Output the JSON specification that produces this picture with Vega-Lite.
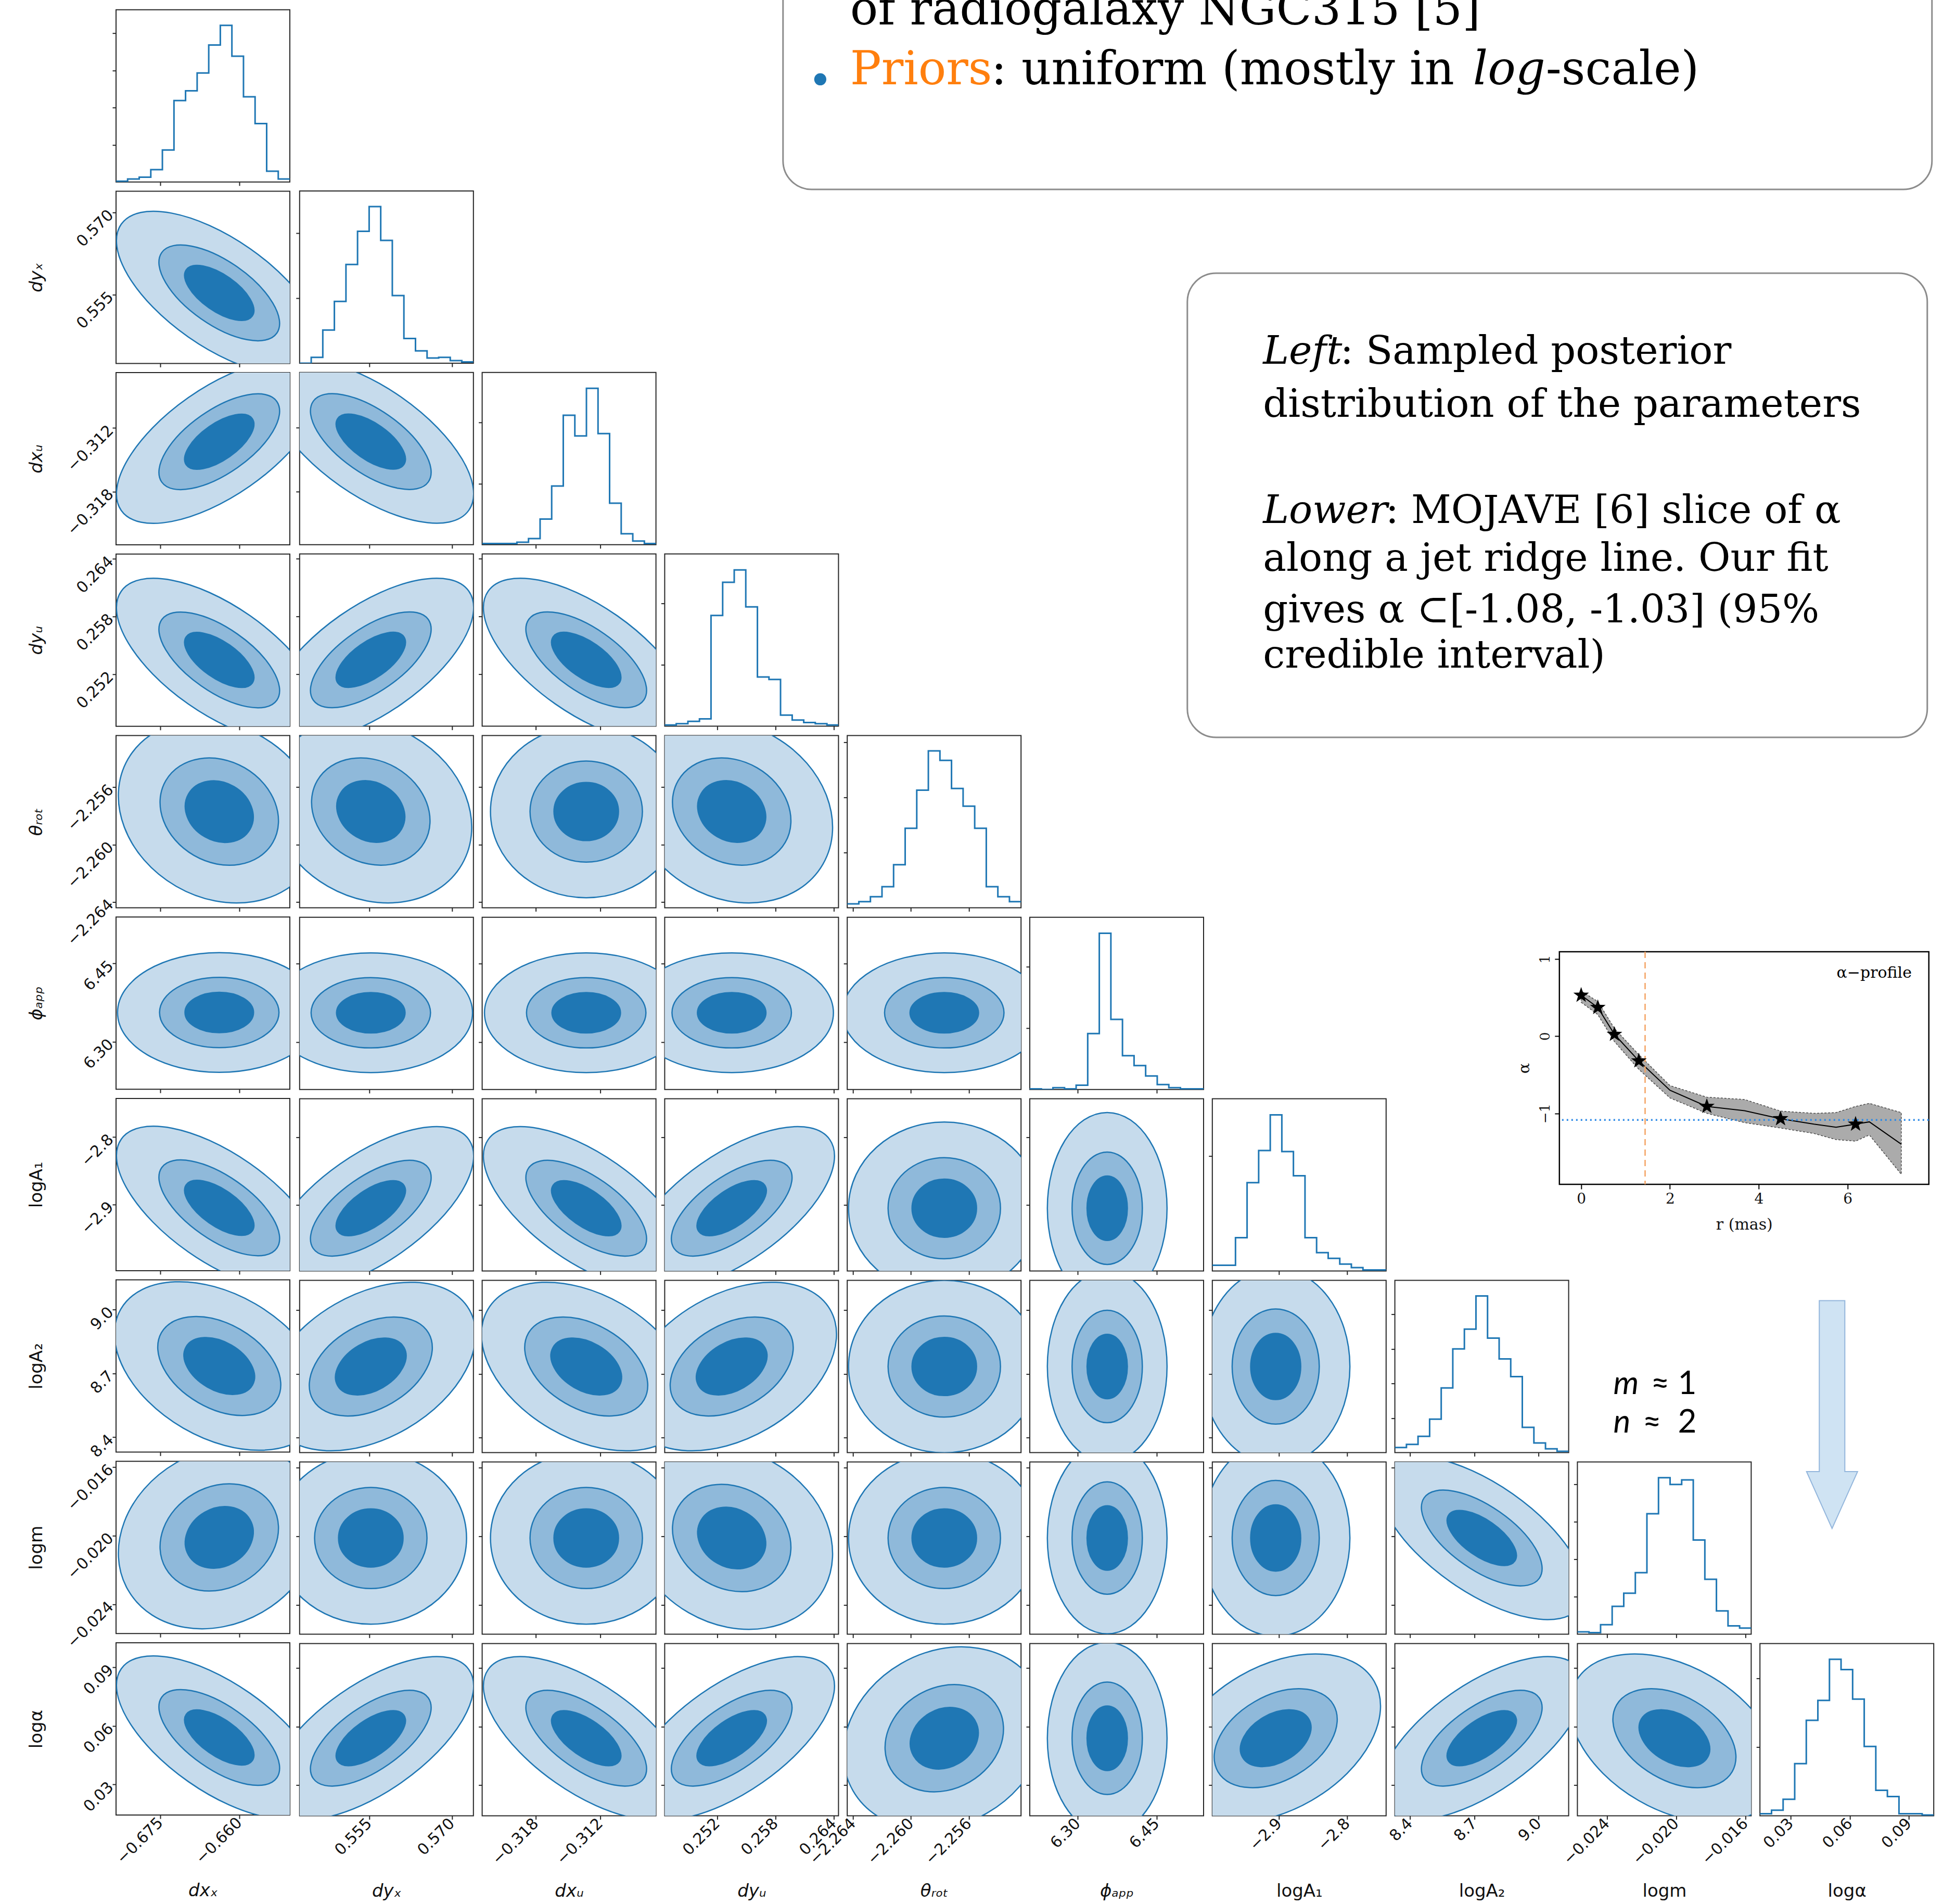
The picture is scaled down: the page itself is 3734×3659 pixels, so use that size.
{
"$schema":"https://vega.github.io/schema/vega-lite/v6.json",
"background":"white",
"padding":{"left":52,"top":-65,"right":10,"bottom":0},
"spacing":8.8,
"config":{
 "view":{"stroke":"#262626","strokeWidth":2},
 "range":{"symbol":[
  "M0.819,0.574C0.677,0.777,0.194,0.685,-0.258,0.369C-0.711,0.052,-0.962,-0.37,-0.819,-0.574C-0.677,-0.777,-0.194,-0.685,0.258,-0.369C0.711,-0.052,0.962,0.37,0.819,0.574Z",
  "M0.823,0.475C0.657,0.762,0.154,0.782,-0.3,0.52C-0.754,0.257,-0.988,-0.188,-0.823,-0.475C-0.657,-0.762,-0.154,-0.782,0.3,-0.52C0.754,-0.257,0.988,0.188,0.823,0.475Z",
  "M0.819,-0.574C0.677,-0.777,0.194,-0.685,-0.258,-0.369C-0.711,-0.052,-0.962,0.37,-0.819,0.574C-0.677,0.777,-0.194,0.685,0.258,0.369C0.711,0.052,0.962,-0.37,0.819,-0.574Z",
  "M0.823,-0.475C0.657,-0.762,0.154,-0.782,-0.3,-0.52C-0.754,-0.257,-0.988,0.188,-0.823,0.475C-0.657,0.762,-0.154,0.782,0.3,0.52C0.754,0.257,0.988,-0.188,0.823,-0.475Z",
  "M0.762,0.44C0.563,0.784,0.061,0.867,-0.36,0.624C-0.781,0.381,-0.961,-0.096,-0.762,-0.44C-0.563,-0.784,-0.061,-0.867,0.36,-0.624C0.781,-0.381,0.961,0.096,0.762,0.44Z",
  "M0.762,-0.44C0.563,-0.784,0.061,-0.867,-0.36,-0.624C-0.781,-0.381,-0.961,0.096,-0.762,0.44C-0.563,0.784,-0.061,0.867,0.36,0.624C0.781,0.381,0.961,-0.096,0.762,-0.44Z",
  "M0.8,0C0.8,0.398,0.442,0.72,0,0.72C-0.442,0.72,-0.8,0.398,-0.8,0C-0.8,-0.398,-0.442,-0.72,0,-0.72C0.442,-0.72,0.8,-0.398,0.8,0Z",
  "M0.85,0C0.85,0.276,0.47,0.5,0,0.5C-0.47,0.5,-0.85,0.276,-0.85,0C-0.85,-0.276,-0.47,-0.5,0,-0.5C0.47,-0.5,0.85,-0.276,0.85,0Z",
  "M0.5,0C0.5,0.442,0.276,0.8,0,0.8C-0.276,0.8,-0.5,0.442,-0.5,0C-0.5,-0.442,-0.276,-0.8,0,-0.8C0.276,-0.8,0.5,-0.442,0.5,0Z",
  "M0.62,0C0.62,0.453,0.342,0.82,0,0.82C-0.342,0.82,-0.62,0.453,-0.62,0C-0.62,-0.453,-0.342,-0.82,0,-0.82C0.342,-0.82,0.62,-0.453,0.62,0Z"
 ]},
 "axis":{"grid":false,"domain":false,"tickSize":7,"tickWidth":2,"tickColor":"#262626","labelFont":"DejaVu Sans","labelFontSize":30,"labelColor":"#111111","labelAngle":-45,"labelAlign":"right","labelBaseline":"middle","labelPadding":3,"labelOverlap":false,"labelFlush":false,"titleFont":"DejaVu Sans","titleFontSize":34,"titleFontWeight":"normal","titleColor":"#111111"}
},
"datasets":{
"ct":[
{"p":"2-1","l":3,"x":-0.6638,"y":0.5553,"f":"N"},{"p":"2-1","l":2,"x":-0.6638,"y":0.5553,"f":"N"},{"p":"2-1","l":1,"x":-0.6638,"y":0.5553,"f":"N"},
{"p":"3-1","l":3,"x":-0.6638,"y":-0.3133,"f":"P"},{"p":"3-1","l":2,"x":-0.6638,"y":-0.3133,"f":"P"},{"p":"3-1","l":1,"x":-0.6638,"y":-0.3133,"f":"P"},
{"p":"3-2","l":3,"x":0.5553,"y":-0.3133,"f":"N"},{"p":"3-2","l":2,"x":0.5553,"y":-0.3133,"f":"N"},{"p":"3-2","l":1,"x":0.5553,"y":-0.3133,"f":"N"},
{"p":"4-1","l":3,"x":-0.6638,"y":0.2535,"f":"N"},{"p":"4-1","l":2,"x":-0.6638,"y":0.2535,"f":"N"},{"p":"4-1","l":1,"x":-0.6638,"y":0.2535,"f":"N"},
{"p":"4-2","l":3,"x":0.5553,"y":0.2535,"f":"P"},{"p":"4-2","l":2,"x":0.5553,"y":0.2535,"f":"P"},{"p":"4-2","l":1,"x":0.5553,"y":0.2535,"f":"P"},
{"p":"4-3","l":3,"x":-0.3133,"y":0.2535,"f":"N"},{"p":"4-3","l":2,"x":-0.3133,"y":0.2535,"f":"N"},{"p":"4-3","l":1,"x":-0.3133,"y":0.2535,"f":"N"},
{"p":"5-1","l":3,"x":-0.6638,"y":-2.2577,"f":"s"},{"p":"5-1","l":2,"x":-0.6638,"y":-2.2577,"f":"s"},{"p":"5-1","l":1,"x":-0.6638,"y":-2.2577,"f":"s"},
{"p":"5-2","l":3,"x":0.5553,"y":-2.2577,"f":"s"},{"p":"5-2","l":2,"x":0.5553,"y":-2.2577,"f":"s"},{"p":"5-2","l":1,"x":0.5553,"y":-2.2577,"f":"s"},
{"p":"5-3","l":3,"x":-0.3133,"y":-2.2577,"f":"o"},{"p":"5-3","l":2,"x":-0.3133,"y":-2.2577,"f":"o"},{"p":"5-3","l":1,"x":-0.3133,"y":-2.2577,"f":"o"},
{"p":"5-4","l":3,"x":0.2535,"y":-2.2577,"f":"s"},{"p":"5-4","l":2,"x":0.2535,"y":-2.2577,"f":"s"},{"p":"5-4","l":1,"x":0.2535,"y":-2.2577,"f":"s"},
{"p":"6-1","l":3,"x":-0.6638,"y":6.356,"f":"w"},{"p":"6-1","l":2,"x":-0.6638,"y":6.356,"f":"w"},{"p":"6-1","l":1,"x":-0.6638,"y":6.356,"f":"w"},
{"p":"6-2","l":3,"x":0.5553,"y":6.356,"f":"w"},{"p":"6-2","l":2,"x":0.5553,"y":6.356,"f":"w"},{"p":"6-2","l":1,"x":0.5553,"y":6.356,"f":"w"},
{"p":"6-3","l":3,"x":-0.3133,"y":6.356,"f":"w"},{"p":"6-3","l":2,"x":-0.3133,"y":6.356,"f":"w"},{"p":"6-3","l":1,"x":-0.3133,"y":6.356,"f":"w"},
{"p":"6-4","l":3,"x":0.2535,"y":6.356,"f":"w"},{"p":"6-4","l":2,"x":0.2535,"y":6.356,"f":"w"},{"p":"6-4","l":1,"x":0.2535,"y":6.356,"f":"w"},
{"p":"6-5","l":3,"x":-2.2577,"y":6.356,"f":"w"},{"p":"6-5","l":2,"x":-2.2577,"y":6.356,"f":"w"},{"p":"6-5","l":1,"x":-2.2577,"y":6.356,"f":"w"},
{"p":"7-1","l":3,"x":-0.6638,"y":-2.905,"f":"N"},{"p":"7-1","l":2,"x":-0.6638,"y":-2.905,"f":"N"},{"p":"7-1","l":1,"x":-0.6638,"y":-2.905,"f":"N"},
{"p":"7-2","l":3,"x":0.5553,"y":-2.905,"f":"P"},{"p":"7-2","l":2,"x":0.5553,"y":-2.905,"f":"P"},{"p":"7-2","l":1,"x":0.5553,"y":-2.905,"f":"P"},
{"p":"7-3","l":3,"x":-0.3133,"y":-2.905,"f":"N"},{"p":"7-3","l":2,"x":-0.3133,"y":-2.905,"f":"N"},{"p":"7-3","l":1,"x":-0.3133,"y":-2.905,"f":"N"},
{"p":"7-4","l":3,"x":0.2535,"y":-2.905,"f":"P"},{"p":"7-4","l":2,"x":0.2535,"y":-2.905,"f":"P"},{"p":"7-4","l":1,"x":0.2535,"y":-2.905,"f":"P"},
{"p":"7-5","l":3,"x":-2.2577,"y":-2.905,"f":"o"},{"p":"7-5","l":2,"x":-2.2577,"y":-2.905,"f":"o"},{"p":"7-5","l":1,"x":-2.2577,"y":-2.905,"f":"o"},
{"p":"7-6","l":3,"x":6.356,"y":-2.905,"f":"t"},{"p":"7-6","l":2,"x":6.356,"y":-2.905,"f":"t"},{"p":"7-6","l":1,"x":6.356,"y":-2.905,"f":"t"},
{"p":"8-1","l":3,"x":-0.6638,"y":8.735,"f":"n"},{"p":"8-1","l":2,"x":-0.6638,"y":8.735,"f":"n"},{"p":"8-1","l":1,"x":-0.6638,"y":8.735,"f":"n"},
{"p":"8-2","l":3,"x":0.5553,"y":8.735,"f":"p"},{"p":"8-2","l":2,"x":0.5553,"y":8.735,"f":"p"},{"p":"8-2","l":1,"x":0.5553,"y":8.735,"f":"p"},
{"p":"8-3","l":3,"x":-0.3133,"y":8.735,"f":"n"},{"p":"8-3","l":2,"x":-0.3133,"y":8.735,"f":"n"},{"p":"8-3","l":1,"x":-0.3133,"y":8.735,"f":"n"},
{"p":"8-4","l":3,"x":0.2535,"y":8.735,"f":"p"},{"p":"8-4","l":2,"x":0.2535,"y":8.735,"f":"p"},{"p":"8-4","l":1,"x":0.2535,"y":8.735,"f":"p"},
{"p":"8-5","l":3,"x":-2.2577,"y":8.735,"f":"o"},{"p":"8-5","l":2,"x":-2.2577,"y":8.735,"f":"o"},{"p":"8-5","l":1,"x":-2.2577,"y":8.735,"f":"o"},
{"p":"8-6","l":3,"x":6.356,"y":8.735,"f":"t"},{"p":"8-6","l":2,"x":6.356,"y":8.735,"f":"t"},{"p":"8-6","l":1,"x":6.356,"y":8.735,"f":"t"},
{"p":"8-7","l":3,"x":-2.905,"y":8.735,"f":"v"},{"p":"8-7","l":2,"x":-2.905,"y":8.735,"f":"v"},{"p":"8-7","l":1,"x":-2.905,"y":8.735,"f":"v"},
{"p":"9-1","l":3,"x":-0.6638,"y":-0.0201,"f":"q"},{"p":"9-1","l":2,"x":-0.6638,"y":-0.0201,"f":"q"},{"p":"9-1","l":1,"x":-0.6638,"y":-0.0201,"f":"q"},
{"p":"9-2","l":3,"x":0.5553,"y":-0.0201,"f":"o"},{"p":"9-2","l":2,"x":0.5553,"y":-0.0201,"f":"o"},{"p":"9-2","l":1,"x":0.5553,"y":-0.0201,"f":"o"},
{"p":"9-3","l":3,"x":-0.3133,"y":-0.0201,"f":"o"},{"p":"9-3","l":2,"x":-0.3133,"y":-0.0201,"f":"o"},{"p":"9-3","l":1,"x":-0.3133,"y":-0.0201,"f":"o"},
{"p":"9-4","l":3,"x":0.2535,"y":-0.0201,"f":"s"},{"p":"9-4","l":2,"x":0.2535,"y":-0.0201,"f":"s"},{"p":"9-4","l":1,"x":0.2535,"y":-0.0201,"f":"s"},
{"p":"9-5","l":3,"x":-2.2577,"y":-0.0201,"f":"o"},{"p":"9-5","l":2,"x":-2.2577,"y":-0.0201,"f":"o"},{"p":"9-5","l":1,"x":-2.2577,"y":-0.0201,"f":"o"},
{"p":"9-6","l":3,"x":6.356,"y":-0.0201,"f":"t"},{"p":"9-6","l":2,"x":6.356,"y":-0.0201,"f":"t"},{"p":"9-6","l":1,"x":6.356,"y":-0.0201,"f":"t"},
{"p":"9-7","l":3,"x":-2.905,"y":-0.0201,"f":"v"},{"p":"9-7","l":2,"x":-2.905,"y":-0.0201,"f":"v"},{"p":"9-7","l":1,"x":-2.905,"y":-0.0201,"f":"v"},
{"p":"9-8","l":3,"x":8.735,"y":-0.0201,"f":"N"},{"p":"9-8","l":2,"x":8.735,"y":-0.0201,"f":"N"},{"p":"9-8","l":1,"x":8.735,"y":-0.0201,"f":"N"},
{"p":"10-1","l":3,"x":-0.6638,"y":0.0541,"f":"N"},{"p":"10-1","l":2,"x":-0.6638,"y":0.0541,"f":"N"},{"p":"10-1","l":1,"x":-0.6638,"y":0.0541,"f":"N"},
{"p":"10-2","l":3,"x":0.5553,"y":0.0541,"f":"P"},{"p":"10-2","l":2,"x":0.5553,"y":0.0541,"f":"P"},{"p":"10-2","l":1,"x":0.5553,"y":0.0541,"f":"P"},
{"p":"10-3","l":3,"x":-0.3133,"y":0.0541,"f":"N"},{"p":"10-3","l":2,"x":-0.3133,"y":0.0541,"f":"N"},{"p":"10-3","l":1,"x":-0.3133,"y":0.0541,"f":"N"},
{"p":"10-4","l":3,"x":0.2535,"y":0.0541,"f":"P"},{"p":"10-4","l":2,"x":0.2535,"y":0.0541,"f":"P"},{"p":"10-4","l":1,"x":0.2535,"y":0.0541,"f":"P"},
{"p":"10-5","l":3,"x":-2.2577,"y":0.0541,"f":"q"},{"p":"10-5","l":2,"x":-2.2577,"y":0.0541,"f":"q"},{"p":"10-5","l":1,"x":-2.2577,"y":0.0541,"f":"q"},
{"p":"10-6","l":3,"x":6.356,"y":0.0541,"f":"t"},{"p":"10-6","l":2,"x":6.356,"y":0.0541,"f":"t"},{"p":"10-6","l":1,"x":6.356,"y":0.0541,"f":"t"},
{"p":"10-7","l":3,"x":-2.905,"y":0.0541,"f":"p"},{"p":"10-7","l":2,"x":-2.905,"y":0.0541,"f":"p"},{"p":"10-7","l":1,"x":-2.905,"y":0.0541,"f":"p"},
{"p":"10-8","l":3,"x":8.735,"y":0.0541,"f":"P"},{"p":"10-8","l":2,"x":8.735,"y":0.0541,"f":"P"},{"p":"10-8","l":1,"x":8.735,"y":0.0541,"f":"P"},
{"p":"10-9","l":3,"x":-0.0201,"y":0.0541,"f":"n"},{"p":"10-9","l":2,"x":-0.0201,"y":0.0541,"f":"n"},{"p":"10-9","l":1,"x":-0.0201,"y":0.0541,"f":"n"}
],
"hist":[
{"p":1,"x":-0.6834,"h":0.02},{"p":1,"x":-0.6812,"h":0.08},{"p":1,"x":-0.679,"h":0.13},{"p":1,"x":-0.6768,"h":0.33},{"p":1,"x":-0.6746,"h":0.86},{"p":1,"x":-0.6724,"h":2.19},{"p":1,"x":-0.6702,"h":2.45},{"p":1,"x":-0.668,"h":2.93},{"p":1,"x":-0.6658,"h":3.68},{"p":1,"x":-0.6636,"h":4.21},{"p":1,"x":-0.6614,"h":3.38},{"p":1,"x":-0.6592,"h":2.29},{"p":1,"x":-0.657,"h":1.57},{"p":1,"x":-0.6548,"h":0.29},{"p":1,"x":-0.6526,"h":0.08},{"p":1,"x":-0.6504,"h":0.08},
{"p":2,"x":0.5424,"h":0.0},{"p":2,"x":0.5445,"h":0.09},{"p":2,"x":0.5466,"h":0.51},{"p":2,"x":0.5487,"h":0.95},{"p":2,"x":0.5508,"h":1.52},{"p":2,"x":0.5529,"h":2.03},{"p":2,"x":0.555,"h":2.41},{"p":2,"x":0.5571,"h":1.89},{"p":2,"x":0.5592,"h":1.04},{"p":2,"x":0.5613,"h":0.38},{"p":2,"x":0.5634,"h":0.19},{"p":2,"x":0.5655,"h":0.08},{"p":2,"x":0.5676,"h":0.09},{"p":2,"x":0.5697,"h":0.04},{"p":2,"x":0.5718,"h":0.02},{"p":2,"x":0.5739,"h":0.02},
{"p":3,"x":-0.323,"h":0.02},{"p":3,"x":-0.32192,"h":0.02},{"p":3,"x":-0.32084,"h":0.02},{"p":3,"x":-0.31976,"h":0.04},{"p":3,"x":-0.31868,"h":0.1},{"p":3,"x":-0.3176,"h":0.42},{"p":3,"x":-0.31652,"h":0.96},{"p":3,"x":-0.31544,"h":2.12},{"p":3,"x":-0.31436,"h":1.78},{"p":3,"x":-0.31328,"h":2.56},{"p":3,"x":-0.3122,"h":1.82},{"p":3,"x":-0.31112,"h":0.68},{"p":3,"x":-0.31004,"h":0.18},{"p":3,"x":-0.30896,"h":0.06},{"p":3,"x":-0.30788,"h":0.02},{"p":3,"x":-0.3068,"h":0.02},
{"p":4,"x":0.2466,"h":0.02},{"p":4,"x":0.24779,"h":0.04},{"p":4,"x":0.24899,"h":0.08},{"p":4,"x":0.25018,"h":0.12},{"p":4,"x":0.25137,"h":1.8},{"p":4,"x":0.25257,"h":2.34},{"p":4,"x":0.25376,"h":2.54},{"p":4,"x":0.25495,"h":1.94},{"p":4,"x":0.25615,"h":0.8},{"p":4,"x":0.25734,"h":0.76},{"p":4,"x":0.25853,"h":0.18},{"p":4,"x":0.25973,"h":0.1},{"p":4,"x":0.26092,"h":0.06},{"p":4,"x":0.26211,"h":0.04},{"p":4,"x":0.26331,"h":0.02},{"p":4,"x":0.2645,"h":0.02},
{"p":5,"x":-2.2644,"h":0.07},{"p":5,"x":-2.2636,"h":0.11},{"p":5,"x":-2.2628,"h":0.2},{"p":5,"x":-2.262,"h":0.38},{"p":5,"x":-2.2612,"h":0.78},{"p":5,"x":-2.2604,"h":1.44},{"p":5,"x":-2.2596,"h":2.13},{"p":5,"x":-2.2588,"h":2.84},{"p":5,"x":-2.258,"h":2.67},{"p":5,"x":-2.2572,"h":2.16},{"p":5,"x":-2.2564,"h":1.84},{"p":5,"x":-2.2556,"h":1.44},{"p":5,"x":-2.2548,"h":0.38},{"p":5,"x":-2.254,"h":0.2},{"p":5,"x":-2.2532,"h":0.11},{"p":5,"x":-2.2524,"h":0.11},
{"p":6,"x":6.209,"h":0.01},{"p":6,"x":6.231,"h":0.0},{"p":6,"x":6.253,"h":0.03},{"p":6,"x":6.275,"h":0.01},{"p":6,"x":6.297,"h":0.07},{"p":6,"x":6.319,"h":0.91},{"p":6,"x":6.341,"h":2.54},{"p":6,"x":6.363,"h":1.14},{"p":6,"x":6.385,"h":0.55},{"p":6,"x":6.407,"h":0.39},{"p":6,"x":6.429,"h":0.22},{"p":6,"x":6.451,"h":0.08},{"p":6,"x":6.473,"h":0.03},{"p":6,"x":6.495,"h":0.01},{"p":6,"x":6.517,"h":0.01},{"p":6,"x":6.539,"h":0.01},
{"p":7,"x":-2.998,"h":0.05},{"p":7,"x":-2.981,"h":0.05},{"p":7,"x":-2.964,"h":0.29},{"p":7,"x":-2.947,"h":0.77},{"p":7,"x":-2.93,"h":1.05},{"p":7,"x":-2.913,"h":1.36},{"p":7,"x":-2.896,"h":1.04},{"p":7,"x":-2.879,"h":0.83},{"p":7,"x":-2.862,"h":0.29},{"p":7,"x":-2.845,"h":0.16},{"p":7,"x":-2.828,"h":0.11},{"p":7,"x":-2.811,"h":0.06},{"p":7,"x":-2.794,"h":0.03},{"p":7,"x":-2.777,"h":0.01},{"p":7,"x":-2.76,"h":0.01},{"p":7,"x":-2.743,"h":0.01},
{"p":8,"x":8.33,"h":0.15},{"p":8,"x":8.384,"h":0.24},{"p":8,"x":8.438,"h":0.47},{"p":8,"x":8.492,"h":0.97},{"p":8,"x":8.546,"h":1.87},{"p":8,"x":8.6,"h":3.0},{"p":8,"x":8.654,"h":3.57},{"p":8,"x":8.708,"h":4.53},{"p":8,"x":8.762,"h":3.31},{"p":8,"x":8.816,"h":2.71},{"p":8,"x":8.87,"h":2.2},{"p":8,"x":8.924,"h":0.73},{"p":8,"x":8.978,"h":0.28},{"p":8,"x":9.032,"h":0.11},{"p":8,"x":9.086,"h":0.04},{"p":8,"x":9.14,"h":0.04},
{"p":9,"x":-0.02571,"h":0.06},{"p":9,"x":-0.02504,"h":0.04},{"p":9,"x":-0.02437,"h":0.25},{"p":9,"x":-0.0237,"h":0.74},{"p":9,"x":-0.02303,"h":1.09},{"p":9,"x":-0.02236,"h":1.64},{"p":9,"x":-0.02169,"h":3.21},{"p":9,"x":-0.02102,"h":4.17},{"p":9,"x":-0.02035,"h":3.99},{"p":9,"x":-0.01968,"h":4.11},{"p":9,"x":-0.01901,"h":2.51},{"p":9,"x":-0.01834,"h":1.46},{"p":9,"x":-0.01767,"h":0.62},{"p":9,"x":-0.017,"h":0.22},{"p":9,"x":-0.01633,"h":0.16},{"p":9,"x":-0.01566,"h":0.16},
{"p":10,"x":0.0144,"h":0.03},{"p":10,"x":0.02028,"h":0.08},{"p":10,"x":0.02616,"h":0.24},{"p":10,"x":0.03204,"h":0.76},{"p":10,"x":0.03792,"h":1.39},{"p":10,"x":0.0438,"h":1.68},{"p":10,"x":0.04968,"h":2.28},{"p":10,"x":0.05556,"h":2.13},{"p":10,"x":0.06144,"h":1.7},{"p":10,"x":0.06732,"h":1.01},{"p":10,"x":0.0732,"h":0.37},{"p":10,"x":0.07908,"h":0.28},{"p":10,"x":0.08496,"h":0.03},{"p":10,"x":0.09084,"h":0.03},{"p":10,"x":0.09672,"h":0.01},{"p":10,"x":0.1026,"h":0.01}
],
"prof":[{"r":0,"a":0.531,"lo":0.44,"hi":0.585},{"r":0.375,"a":0.372,"lo":0.28,"hi":0.45},{"r":0.75,"a":0.024,"lo":-0.07,"hi":0.1},{"r":1.3,"a":-0.32,"lo":-0.43,"hi":-0.24},{"r":2.0,"a":-0.7,"lo":-0.8,"hi":-0.64},{"r":2.83,"a":-0.91,"lo":-1.0,"hi":-0.79},{"r":3.68,"a":-0.965,"lo":-1.12,"hi":-0.82},{"r":4.49,"a":-1.07,"lo":-1.19,"hi":-0.97},{"r":5.24,"a":-1.14,"lo":-1.26,"hi":-1.0},{"r":5.74,"a":-1.18,"lo":-1.34,"hi":-0.99},{"r":6.18,"a":-1.14,"lo":-1.36,"hi":-0.91},{"r":6.49,"a":-1.11,"lo":-1.28,"hi":-0.87},{"r":7.21,"a":-1.4,"lo":-1.79,"hi":-0.99}],
"stars":[{"r":0,"a":0.531},{"r":0.375,"a":0.372},{"r":0.75,"a":0.024},{"r":1.3,"a":-0.32},{"r":2.83,"a":-0.91},{"r":4.49,"a":-1.07},{"r":6.18,"a":-1.14}]
},
"hconcat":[
{"vconcat":[
 {"width":10,"height":60,"view":{"stroke":null},"data":{"values":[{}]},"mark":{"type":"text","text":""}},
 {"width":334,"height":331,"data":{"name":"hist"},"transform":[{"filter":"datum.p==1"}],"mark":{"type":"line","interpolate":"step-after","color":"#1f77b4","strokeWidth":3,"clip":true},"encoding":{"x":{"field":"x","type":"quantitative","scale":{"domain":[-0.6834,-0.6504],"nice":false,"zero":false},"axis":{"values":[-0.675,-0.66],"labels":false,"title":null}},"y":{"field":"h","type":"quantitative","scale":{"domain":[0,4.63],"nice":false},"axis":{"values":[1,2,3,4],"labels":false,"title":null}}}},
 {"width":334,"height":331,"data":{"name":"ct"},"transform":[{"filter":"datum.p=='2-1'"}],"mark":{"type":"point","filled":true,"opacity":1,"stroke":"#1f77b4","strokeWidth":2.5,"clip":true},"encoding":{"x":{"field":"x","type":"quantitative","scale":{"domain":[-0.6834,-0.6504],"nice":false,"zero":false},"axis":{"values":[-0.675,-0.66],"labels":false,"title":null}},"y":{"field":"y","type":"quantitative","scale":{"domain":[0.5424,0.5739],"nice":false,"zero":false},"axis":{"values":[0.555,0.57],"format":".3f","title":"dyₓ","titleFontStyle":"italic","titleX":-153,"titleY":165.5,"titleAlign":"center","titleBaseline":"middle","titleAngle":-90}},"color":{"field":"l","type":"ordinal","scale":{"domain":[1,2,3],"range":["#1f77b4","#8fb9da","#c6dbec"]},"legend":null},"size":{"field":"l","type":"quantitative","scale":{"type":"threshold","domain":[1.5,2.5],"range":[24000,72900,211600]},"legend":null},"shape":{"field":"f","type":"nominal","scale":{"domain":["N","n","P","p","s","q","o","w","t","v"]},"legend":null}}},
 {"width":334,"height":331,"data":{"name":"ct"},"transform":[{"filter":"datum.p=='3-1'"}],"mark":{"type":"point","filled":true,"opacity":1,"stroke":"#1f77b4","strokeWidth":2.5,"clip":true},"encoding":{"x":{"field":"x","type":"quantitative","scale":{"domain":[-0.6834,-0.6504],"nice":false,"zero":false},"axis":{"values":[-0.675,-0.66],"labels":false,"title":null}},"y":{"field":"y","type":"quantitative","scale":{"domain":[-0.323,-0.3068],"nice":false,"zero":false},"axis":{"values":[-0.318,-0.312],"format":".3f","title":"dxᵤ","titleFontStyle":"italic","titleX":-153,"titleY":165.5,"titleAlign":"center","titleBaseline":"middle","titleAngle":-90}},"color":{"field":"l","type":"ordinal","scale":{"domain":[1,2,3],"range":["#1f77b4","#8fb9da","#c6dbec"]},"legend":null},"size":{"field":"l","type":"quantitative","scale":{"type":"threshold","domain":[1.5,2.5],"range":[24000,72900,211600]},"legend":null},"shape":{"field":"f","type":"nominal","scale":{"domain":["N","n","P","p","s","q","o","w","t","v"]},"legend":null}}},
 {"width":334,"height":331,"data":{"name":"ct"},"transform":[{"filter":"datum.p=='4-1'"}],"mark":{"type":"point","filled":true,"opacity":1,"stroke":"#1f77b4","strokeWidth":2.5,"clip":true},"encoding":{"x":{"field":"x","type":"quantitative","scale":{"domain":[-0.6834,-0.6504],"nice":false,"zero":false},"axis":{"values":[-0.675,-0.66],"labels":false,"title":null}},"y":{"field":"y","type":"quantitative","scale":{"domain":[0.2466,0.2645],"nice":false,"zero":false},"axis":{"values":[0.252,0.258,0.264],"format":".3f","title":"dyᵤ","titleFontStyle":"italic","titleX":-153,"titleY":165.5,"titleAlign":"center","titleBaseline":"middle","titleAngle":-90}},"color":{"field":"l","type":"ordinal","scale":{"domain":[1,2,3],"range":["#1f77b4","#8fb9da","#c6dbec"]},"legend":null},"size":{"field":"l","type":"quantitative","scale":{"type":"threshold","domain":[1.5,2.5],"range":[24000,72900,211600]},"legend":null},"shape":{"field":"f","type":"nominal","scale":{"domain":["N","n","P","p","s","q","o","w","t","v"]},"legend":null}}},
 {"width":334,"height":331,"data":{"name":"ct"},"transform":[{"filter":"datum.p=='5-1'"}],"mark":{"type":"point","filled":true,"opacity":1,"stroke":"#1f77b4","strokeWidth":2.5,"clip":true},"encoding":{"x":{"field":"x","type":"quantitative","scale":{"domain":[-0.6834,-0.6504],"nice":false,"zero":false},"axis":{"values":[-0.675,-0.66],"labels":false,"title":null}},"y":{"field":"y","type":"quantitative","scale":{"domain":[-2.2644,-2.2524],"nice":false,"zero":false},"axis":{"values":[-2.264,-2.26,-2.256],"format":".3f","title":"θᵣₒₜ","titleFontStyle":"italic","titleX":-153,"titleY":165.5,"titleAlign":"center","titleBaseline":"middle","titleAngle":-90}},"color":{"field":"l","type":"ordinal","scale":{"domain":[1,2,3],"range":["#1f77b4","#8fb9da","#c6dbec"]},"legend":null},"size":{"field":"l","type":"quantitative","scale":{"type":"threshold","domain":[1.5,2.5],"range":[24000,72900,211600]},"legend":null},"shape":{"field":"f","type":"nominal","scale":{"domain":["N","n","P","p","s","q","o","w","t","v"]},"legend":null}}},
 {"width":334,"height":331,"data":{"name":"ct"},"transform":[{"filter":"datum.p=='6-1'"}],"mark":{"type":"point","filled":true,"opacity":1,"stroke":"#1f77b4","strokeWidth":2.5,"clip":true},"encoding":{"x":{"field":"x","type":"quantitative","scale":{"domain":[-0.6834,-0.6504],"nice":false,"zero":false},"axis":{"values":[-0.675,-0.66],"labels":false,"title":null}},"y":{"field":"y","type":"quantitative","scale":{"domain":[6.209,6.539],"nice":false,"zero":false},"axis":{"values":[6.3,6.45],"format":".2f","title":"ϕₐₚₚ","titleFontStyle":"italic","titleX":-153,"titleY":165.5,"titleAlign":"center","titleBaseline":"middle","titleAngle":-90}},"color":{"field":"l","type":"ordinal","scale":{"domain":[1,2,3],"range":["#1f77b4","#8fb9da","#c6dbec"]},"legend":null},"size":{"field":"l","type":"quantitative","scale":{"type":"threshold","domain":[1.5,2.5],"range":[24000,72900,211600]},"legend":null},"shape":{"field":"f","type":"nominal","scale":{"domain":["N","n","P","p","s","q","o","w","t","v"]},"legend":null}}},
 {"width":334,"height":331,"data":{"name":"ct"},"transform":[{"filter":"datum.p=='7-1'"}],"mark":{"type":"point","filled":true,"opacity":1,"stroke":"#1f77b4","strokeWidth":2.5,"clip":true},"encoding":{"x":{"field":"x","type":"quantitative","scale":{"domain":[-0.6834,-0.6504],"nice":false,"zero":false},"axis":{"values":[-0.675,-0.66],"labels":false,"title":null}},"y":{"field":"y","type":"quantitative","scale":{"domain":[-2.998,-2.743],"nice":false,"zero":false},"axis":{"values":[-2.9,-2.8],"format":".1f","title":"logA₁","titleX":-153,"titleY":165.5,"titleAlign":"center","titleBaseline":"middle","titleAngle":-90}},"color":{"field":"l","type":"ordinal","scale":{"domain":[1,2,3],"range":["#1f77b4","#8fb9da","#c6dbec"]},"legend":null},"size":{"field":"l","type":"quantitative","scale":{"type":"threshold","domain":[1.5,2.5],"range":[24000,72900,211600]},"legend":null},"shape":{"field":"f","type":"nominal","scale":{"domain":["N","n","P","p","s","q","o","w","t","v"]},"legend":null}}},
 {"width":334,"height":331,"data":{"name":"ct"},"transform":[{"filter":"datum.p=='8-1'"}],"mark":{"type":"point","filled":true,"opacity":1,"stroke":"#1f77b4","strokeWidth":2.5,"clip":true},"encoding":{"x":{"field":"x","type":"quantitative","scale":{"domain":[-0.6834,-0.6504],"nice":false,"zero":false},"axis":{"values":[-0.675,-0.66],"labels":false,"title":null}},"y":{"field":"y","type":"quantitative","scale":{"domain":[8.33,9.14],"nice":false,"zero":false},"axis":{"values":[8.4,8.7,9.0],"format":".1f","title":"logA₂","titleX":-153,"titleY":165.5,"titleAlign":"center","titleBaseline":"middle","titleAngle":-90}},"color":{"field":"l","type":"ordinal","scale":{"domain":[1,2,3],"range":["#1f77b4","#8fb9da","#c6dbec"]},"legend":null},"size":{"field":"l","type":"quantitative","scale":{"type":"threshold","domain":[1.5,2.5],"range":[24000,72900,211600]},"legend":null},"shape":{"field":"f","type":"nominal","scale":{"domain":["N","n","P","p","s","q","o","w","t","v"]},"legend":null}}},
 {"width":334,"height":331,"data":{"name":"ct"},"transform":[{"filter":"datum.p=='9-1'"}],"mark":{"type":"point","filled":true,"opacity":1,"stroke":"#1f77b4","strokeWidth":2.5,"clip":true},"encoding":{"x":{"field":"x","type":"quantitative","scale":{"domain":[-0.6834,-0.6504],"nice":false,"zero":false},"axis":{"values":[-0.675,-0.66],"labels":false,"title":null}},"y":{"field":"y","type":"quantitative","scale":{"domain":[-0.02571,-0.01566],"nice":false,"zero":false},"axis":{"values":[-0.024,-0.02,-0.016],"format":".3f","title":"logm","titleX":-153,"titleY":165.5,"titleAlign":"center","titleBaseline":"middle","titleAngle":-90}},"color":{"field":"l","type":"ordinal","scale":{"domain":[1,2,3],"range":["#1f77b4","#8fb9da","#c6dbec"]},"legend":null},"size":{"field":"l","type":"quantitative","scale":{"type":"threshold","domain":[1.5,2.5],"range":[24000,72900,211600]},"legend":null},"shape":{"field":"f","type":"nominal","scale":{"domain":["N","n","P","p","s","q","o","w","t","v"]},"legend":null}}},
 {"width":334,"height":331,"data":{"name":"ct"},"transform":[{"filter":"datum.p=='10-1'"}],"mark":{"type":"point","filled":true,"opacity":1,"stroke":"#1f77b4","strokeWidth":2.5,"clip":true},"encoding":{"x":{"field":"x","type":"quantitative","scale":{"domain":[-0.6834,-0.6504],"nice":false,"zero":false},"axis":{"values":[-0.675,-0.66],"format":".3f","title":"dxₓ","titleFontStyle":"italic","titleY":128,"titleBaseline":"top"}},"y":{"field":"y","type":"quantitative","scale":{"domain":[0.0144,0.1026],"nice":false,"zero":false},"axis":{"values":[0.03,0.06,0.09],"format":".2f","title":"logα","titleX":-153,"titleY":165.5,"titleAlign":"center","titleBaseline":"middle","titleAngle":-90}},"color":{"field":"l","type":"ordinal","scale":{"domain":[1,2,3],"range":["#1f77b4","#8fb9da","#c6dbec"]},"legend":null},"size":{"field":"l","type":"quantitative","scale":{"type":"threshold","domain":[1.5,2.5],"range":[24000,72900,211600]},"legend":null},"shape":{"field":"f","type":"nominal","scale":{"domain":["N","n","P","p","s","q","o","w","t","v"]},"legend":null}}}
],"spacing":17.7,"bounds":"flush"},
{"vconcat":[
 {"hconcat":[
  {"width":1,"height":1,"view":{"stroke":null},"data":{"values":[{}]},"mark":{"type":"text","text":""}},
  {"width":2208,"height":423,"view":{"stroke":"#8c8c8c","strokeWidth":3,"cornerRadius":55,"fill":"#ffffff"},
   "data":{"values":[{"s":"a","t":"of radiogalaxy NGC315 [5]"},{"s":"b","t":"•"},{"s":"c","t":"Priors"},{"s":"d","t":": uniform (mostly in"},{"s":"e","t":"log"},{"s":"f","t":"-scale)"}]},
   "encoding":{"text":{"field":"t"}},
   "layer":[
    {"transform":[{"filter":"datum.s=='a'"}],"mark":{"type":"text","font":"DejaVu Serif","fontSize":89,"align":"left","baseline":"alphabetic","dx":-975,"dy":-106,"color":"#000000"}},
    {"transform":[{"filter":"datum.s=='b'"}],"mark":{"type":"text","font":"DejaVu Sans","fontSize":80,"align":"left","baseline":"alphabetic","dx":-1056,"dy":29,"color":"#1f77b4"}},
    {"transform":[{"filter":"datum.s=='c'"}],"mark":{"type":"text","font":"DejaVu Serif","fontSize":89,"align":"left","baseline":"alphabetic","dx":-975,"dy":9,"color":"#ff7f0e"}},
    {"transform":[{"filter":"datum.s=='d'"}],"mark":{"type":"text","font":"DejaVu Serif","fontSize":89,"align":"left","baseline":"alphabetic","dx":-704,"dy":9,"color":"#000000"}},
    {"transform":[{"filter":"datum.s=='e'"}],"mark":{"type":"text","font":"DejaVu Serif","fontSize":89,"fontStyle":"italic","align":"left","baseline":"alphabetic","dx":222,"dy":9,"color":"#000000"}},
    {"transform":[{"filter":"datum.s=='f'"}],"mark":{"type":"text","font":"DejaVu Serif","fontSize":89,"align":"left","baseline":"alphabetic","dx":362,"dy":9,"color":"#000000"}}
   ]}
 ],"spacing":928,"bounds":"flush"},
 {"vconcat":[
  {"hconcat":[
   {"vconcat":[
    {"width":334,"height":331,"data":{"name":"hist"},"transform":[{"filter":"datum.p==2"}],"mark":{"type":"line","interpolate":"step-after","color":"#1f77b4","strokeWidth":3,"clip":true},"encoding":{"x":{"field":"x","type":"quantitative","scale":{"domain":[0.5424,0.5739],"nice":false,"zero":false},"axis":{"values":[0.555,0.57],"labels":false,"title":null}},"y":{"field":"h","type":"quantitative","scale":{"domain":[0,2.65],"nice":false},"axis":{"values":[1,2],"labels":false,"title":null}}}},
    {"hconcat":[
     {"width":334,"height":331,"data":{"name":"ct"},"transform":[{"filter":"datum.p=='3-2'"}],"mark":{"type":"point","filled":true,"opacity":1,"stroke":"#1f77b4","strokeWidth":2.5,"clip":true},"encoding":{"x":{"field":"x","type":"quantitative","scale":{"domain":[0.5424,0.5739],"nice":false,"zero":false},"axis":{"values":[0.555,0.57],"labels":false,"title":null}},"y":{"field":"y","type":"quantitative","scale":{"domain":[-0.323,-0.3068],"nice":false,"zero":false},"axis":{"values":[-0.318,-0.312],"labels":false,"title":null}},"color":{"field":"l","type":"ordinal","scale":{"domain":[1,2,3],"range":["#1f77b4","#8fb9da","#c6dbec"]},"legend":null},"size":{"field":"l","type":"quantitative","scale":{"type":"threshold","domain":[1.5,2.5],"range":[24000,72900,211600]},"legend":null},"shape":{"field":"f","type":"nominal","scale":{"domain":["N","n","P","p","s","q","o","w","t","v"]},"legend":null}}},
     {"width":334,"height":331,"data":{"name":"hist"},"transform":[{"filter":"datum.p==3"}],"mark":{"type":"line","interpolate":"step-after","color":"#1f77b4","strokeWidth":3,"clip":true},"encoding":{"x":{"field":"x","type":"quantitative","scale":{"domain":[-0.323,-0.3068],"nice":false,"zero":false},"axis":{"values":[-0.318,-0.312],"labels":false,"title":null}},"y":{"field":"h","type":"quantitative","scale":{"domain":[0,2.82],"nice":false},"axis":{"values":[1,2],"labels":false,"title":null}}}}
    ],"spacing":16.8,"bounds":"flush"},
    {"hconcat":[
     {"width":334,"height":331,"data":{"name":"ct"},"transform":[{"filter":"datum.p=='4-2'"}],"mark":{"type":"point","filled":true,"opacity":1,"stroke":"#1f77b4","strokeWidth":2.5,"clip":true},"encoding":{"x":{"field":"x","type":"quantitative","scale":{"domain":[0.5424,0.5739],"nice":false,"zero":false},"axis":{"values":[0.555,0.57],"labels":false,"title":null}},"y":{"field":"y","type":"quantitative","scale":{"domain":[0.2466,0.2645],"nice":false,"zero":false},"axis":{"values":[0.252,0.258,0.264],"labels":false,"title":null}},"color":{"field":"l","type":"ordinal","scale":{"domain":[1,2,3],"range":["#1f77b4","#8fb9da","#c6dbec"]},"legend":null},"size":{"field":"l","type":"quantitative","scale":{"type":"threshold","domain":[1.5,2.5],"range":[24000,72900,211600]},"legend":null},"shape":{"field":"f","type":"nominal","scale":{"domain":["N","n","P","p","s","q","o","w","t","v"]},"legend":null}}},
     {"width":334,"height":331,"data":{"name":"ct"},"transform":[{"filter":"datum.p=='4-3'"}],"mark":{"type":"point","filled":true,"opacity":1,"stroke":"#1f77b4","strokeWidth":2.5,"clip":true},"encoding":{"x":{"field":"x","type":"quantitative","scale":{"domain":[-0.323,-0.3068],"nice":false,"zero":false},"axis":{"values":[-0.318,-0.312],"labels":false,"title":null}},"y":{"field":"y","type":"quantitative","scale":{"domain":[0.2466,0.2645],"nice":false,"zero":false},"axis":{"values":[0.252,0.258,0.264],"labels":false,"title":null}},"color":{"field":"l","type":"ordinal","scale":{"domain":[1,2,3],"range":["#1f77b4","#8fb9da","#c6dbec"]},"legend":null},"size":{"field":"l","type":"quantitative","scale":{"type":"threshold","domain":[1.5,2.5],"range":[24000,72900,211600]},"legend":null},"shape":{"field":"f","type":"nominal","scale":{"domain":["N","n","P","p","s","q","o","w","t","v"]},"legend":null}}},
     {"width":334,"height":331,"data":{"name":"hist"},"transform":[{"filter":"datum.p==4"}],"mark":{"type":"line","interpolate":"step-after","color":"#1f77b4","strokeWidth":3,"clip":true},"encoding":{"x":{"field":"x","type":"quantitative","scale":{"domain":[0.2466,0.2645],"nice":false,"zero":false},"axis":{"values":[0.252,0.258,0.264],"labels":false,"title":null}},"y":{"field":"h","type":"quantitative","scale":{"domain":[0,2.8],"nice":false},"axis":{"values":[1,2],"labels":false,"title":null}}}}
    ],"spacing":16.8,"bounds":"flush"},
    {"hconcat":[
     {"width":334,"height":331,"data":{"name":"ct"},"transform":[{"filter":"datum.p=='5-2'"}],"mark":{"type":"point","filled":true,"opacity":1,"stroke":"#1f77b4","strokeWidth":2.5,"clip":true},"encoding":{"x":{"field":"x","type":"quantitative","scale":{"domain":[0.5424,0.5739],"nice":false,"zero":false},"axis":{"values":[0.555,0.57],"labels":false,"title":null}},"y":{"field":"y","type":"quantitative","scale":{"domain":[-2.2644,-2.2524],"nice":false,"zero":false},"axis":{"values":[-2.264,-2.26,-2.256],"labels":false,"title":null}},"color":{"field":"l","type":"ordinal","scale":{"domain":[1,2,3],"range":["#1f77b4","#8fb9da","#c6dbec"]},"legend":null},"size":{"field":"l","type":"quantitative","scale":{"type":"threshold","domain":[1.5,2.5],"range":[24000,72900,211600]},"legend":null},"shape":{"field":"f","type":"nominal","scale":{"domain":["N","n","P","p","s","q","o","w","t","v"]},"legend":null}}},
     {"width":334,"height":331,"data":{"name":"ct"},"transform":[{"filter":"datum.p=='5-3'"}],"mark":{"type":"point","filled":true,"opacity":1,"stroke":"#1f77b4","strokeWidth":2.5,"clip":true},"encoding":{"x":{"field":"x","type":"quantitative","scale":{"domain":[-0.323,-0.3068],"nice":false,"zero":false},"axis":{"values":[-0.318,-0.312],"labels":false,"title":null}},"y":{"field":"y","type":"quantitative","scale":{"domain":[-2.2644,-2.2524],"nice":false,"zero":false},"axis":{"values":[-2.264,-2.26,-2.256],"labels":false,"title":null}},"color":{"field":"l","type":"ordinal","scale":{"domain":[1,2,3],"range":["#1f77b4","#8fb9da","#c6dbec"]},"legend":null},"size":{"field":"l","type":"quantitative","scale":{"type":"threshold","domain":[1.5,2.5],"range":[24000,72900,211600]},"legend":null},"shape":{"field":"f","type":"nominal","scale":{"domain":["N","n","P","p","s","q","o","w","t","v"]},"legend":null}}},
     {"width":334,"height":331,"data":{"name":"ct"},"transform":[{"filter":"datum.p=='5-4'"}],"mark":{"type":"point","filled":true,"opacity":1,"stroke":"#1f77b4","strokeWidth":2.5,"clip":true},"encoding":{"x":{"field":"x","type":"quantitative","scale":{"domain":[0.2466,0.2645],"nice":false,"zero":false},"axis":{"values":[0.252,0.258,0.264],"labels":false,"title":null}},"y":{"field":"y","type":"quantitative","scale":{"domain":[-2.2644,-2.2524],"nice":false,"zero":false},"axis":{"values":[-2.264,-2.26,-2.256],"labels":false,"title":null}},"color":{"field":"l","type":"ordinal","scale":{"domain":[1,2,3],"range":["#1f77b4","#8fb9da","#c6dbec"]},"legend":null},"size":{"field":"l","type":"quantitative","scale":{"type":"threshold","domain":[1.5,2.5],"range":[24000,72900,211600]},"legend":null},"shape":{"field":"f","type":"nominal","scale":{"domain":["N","n","P","p","s","q","o","w","t","v"]},"legend":null}}},
     {"width":334,"height":331,"data":{"name":"hist"},"transform":[{"filter":"datum.p==5"}],"mark":{"type":"line","interpolate":"step-after","color":"#1f77b4","strokeWidth":3,"clip":true},"encoding":{"x":{"field":"x","type":"quantitative","scale":{"domain":[-2.2644,-2.2524],"nice":false,"zero":false},"axis":{"values":[-2.264,-2.26,-2.256],"labels":false,"title":null}},"y":{"field":"h","type":"quantitative","scale":{"domain":[0,3.12],"nice":false},"axis":{"values":[1,2,3],"labels":false,"title":null}}}}
    ],"spacing":16.8,"bounds":"flush"}
   ],"spacing":7.8},
   {"vconcat":[
    {"width":10,"height":140,"view":{"stroke":null},"data":{"values":[{}]},"mark":{"type":"text","text":""}},
    {"width":1422,"height":892,"view":{"stroke":"#8c8c8c","strokeWidth":3,"cornerRadius":55,"fill":"#ffffff"},
     "data":{"values":[{"s":"l1i","t":"Left"},{"s":"l1r","t":": Sampled posterior"},{"s":"l2","t":"distribution of the parameters"},{"s":"l4i","t":"Lower"},{"s":"l4r","t":": MOJAVE [6] slice of α"},{"s":"l5","t":"along a jet ridge line. Our fit"},{"s":"l6","t":"gives α ⊂[-1.08, -1.03] (95%"},{"s":"l7","t":"credible interval)"}]},
     "encoding":{"text":{"field":"t"}},
     "layer":[
      {"transform":[{"filter":"datum.s=='l1i'"}],"mark":{"type":"text","font":"DejaVu Serif","fontSize":75,"fontStyle":"italic","align":"left","baseline":"alphabetic","dx":-565.5,"dy":-272,"color":"#000000"}},
      {"transform":[{"filter":"datum.s=='l1r'"}],"mark":{"type":"text","font":"DejaVu Serif","fontSize":75,"align":"left","baseline":"alphabetic","dx":-417,"dy":-272,"color":"#000000"}},
      {"transform":[{"filter":"datum.s=='l2'"}],"mark":{"type":"text","font":"DejaVu Serif","fontSize":75,"align":"left","baseline":"alphabetic","dx":-565.5,"dy":-170,"color":"#000000"}},
      {"transform":[{"filter":"datum.s=='l4i'"}],"mark":{"type":"text","font":"DejaVu Serif","fontSize":75,"fontStyle":"italic","align":"left","baseline":"alphabetic","dx":-565.5,"dy":34,"color":"#000000"}},
      {"transform":[{"filter":"datum.s=='l4r'"}],"mark":{"type":"text","font":"DejaVu Serif","fontSize":75,"align":"left","baseline":"alphabetic","dx":-330,"dy":34,"color":"#000000"}},
      {"transform":[{"filter":"datum.s=='l5'"}],"mark":{"type":"text","font":"DejaVu Serif","fontSize":75,"align":"left","baseline":"alphabetic","dx":-565.5,"dy":126,"color":"#000000"}},
      {"transform":[{"filter":"datum.s=='l6'"}],"mark":{"type":"text","font":"DejaVu Serif","fontSize":75,"align":"left","baseline":"alphabetic","dx":-565.5,"dy":225,"color":"#000000"}},
      {"transform":[{"filter":"datum.s=='l7'"}],"mark":{"type":"text","font":"DejaVu Serif","fontSize":75,"align":"left","baseline":"alphabetic","dx":-565.5,"dy":312,"color":"#000000"}}
     ]}
   ],"spacing":18,"bounds":"flush"}
  ],"spacing":316},
  {"hconcat":[
   {"vconcat":[
    {"hconcat":[
     {"width":334,"height":331,"data":{"name":"ct"},"transform":[{"filter":"datum.p=='6-2'"}],"mark":{"type":"point","filled":true,"opacity":1,"stroke":"#1f77b4","strokeWidth":2.5,"clip":true},"encoding":{"x":{"field":"x","type":"quantitative","scale":{"domain":[0.5424,0.5739],"nice":false,"zero":false},"axis":{"values":[0.555,0.57],"labels":false,"title":null}},"y":{"field":"y","type":"quantitative","scale":{"domain":[6.209,6.539],"nice":false,"zero":false},"axis":{"values":[6.3,6.45],"labels":false,"title":null}},"color":{"field":"l","type":"ordinal","scale":{"domain":[1,2,3],"range":["#1f77b4","#8fb9da","#c6dbec"]},"legend":null},"size":{"field":"l","type":"quantitative","scale":{"type":"threshold","domain":[1.5,2.5],"range":[24000,72900,211600]},"legend":null},"shape":{"field":"f","type":"nominal","scale":{"domain":["N","n","P","p","s","q","o","w","t","v"]},"legend":null}}},
     {"width":334,"height":331,"data":{"name":"ct"},"transform":[{"filter":"datum.p=='6-3'"}],"mark":{"type":"point","filled":true,"opacity":1,"stroke":"#1f77b4","strokeWidth":2.5,"clip":true},"encoding":{"x":{"field":"x","type":"quantitative","scale":{"domain":[-0.323,-0.3068],"nice":false,"zero":false},"axis":{"values":[-0.318,-0.312],"labels":false,"title":null}},"y":{"field":"y","type":"quantitative","scale":{"domain":[6.209,6.539],"nice":false,"zero":false},"axis":{"values":[6.3,6.45],"labels":false,"title":null}},"color":{"field":"l","type":"ordinal","scale":{"domain":[1,2,3],"range":["#1f77b4","#8fb9da","#c6dbec"]},"legend":null},"size":{"field":"l","type":"quantitative","scale":{"type":"threshold","domain":[1.5,2.5],"range":[24000,72900,211600]},"legend":null},"shape":{"field":"f","type":"nominal","scale":{"domain":["N","n","P","p","s","q","o","w","t","v"]},"legend":null}}},
     {"width":334,"height":331,"data":{"name":"ct"},"transform":[{"filter":"datum.p=='6-4'"}],"mark":{"type":"point","filled":true,"opacity":1,"stroke":"#1f77b4","strokeWidth":2.5,"clip":true},"encoding":{"x":{"field":"x","type":"quantitative","scale":{"domain":[0.2466,0.2645],"nice":false,"zero":false},"axis":{"values":[0.252,0.258,0.264],"labels":false,"title":null}},"y":{"field":"y","type":"quantitative","scale":{"domain":[6.209,6.539],"nice":false,"zero":false},"axis":{"values":[6.3,6.45],"labels":false,"title":null}},"color":{"field":"l","type":"ordinal","scale":{"domain":[1,2,3],"range":["#1f77b4","#8fb9da","#c6dbec"]},"legend":null},"size":{"field":"l","type":"quantitative","scale":{"type":"threshold","domain":[1.5,2.5],"range":[24000,72900,211600]},"legend":null},"shape":{"field":"f","type":"nominal","scale":{"domain":["N","n","P","p","s","q","o","w","t","v"]},"legend":null}}},
     {"width":334,"height":331,"data":{"name":"ct"},"transform":[{"filter":"datum.p=='6-5'"}],"mark":{"type":"point","filled":true,"opacity":1,"stroke":"#1f77b4","strokeWidth":2.5,"clip":true},"encoding":{"x":{"field":"x","type":"quantitative","scale":{"domain":[-2.2644,-2.2524],"nice":false,"zero":false},"axis":{"values":[-2.264,-2.26,-2.256],"labels":false,"title":null}},"y":{"field":"y","type":"quantitative","scale":{"domain":[6.209,6.539],"nice":false,"zero":false},"axis":{"values":[6.3,6.45],"labels":false,"title":null}},"color":{"field":"l","type":"ordinal","scale":{"domain":[1,2,3],"range":["#1f77b4","#8fb9da","#c6dbec"]},"legend":null},"size":{"field":"l","type":"quantitative","scale":{"type":"threshold","domain":[1.5,2.5],"range":[24000,72900,211600]},"legend":null},"shape":{"field":"f","type":"nominal","scale":{"domain":["N","n","P","p","s","q","o","w","t","v"]},"legend":null}}},
     {"width":334,"height":331,"data":{"name":"hist"},"transform":[{"filter":"datum.p==6"}],"mark":{"type":"line","interpolate":"step-after","color":"#1f77b4","strokeWidth":3,"clip":true},"encoding":{"x":{"field":"x","type":"quantitative","scale":{"domain":[6.209,6.539],"nice":false,"zero":false},"axis":{"values":[6.3,6.45],"labels":false,"title":null}},"y":{"field":"h","type":"quantitative","scale":{"domain":[0,2.8],"nice":false},"axis":{"values":[1,2],"labels":false,"title":null}}}}
    ],"spacing":16.8,"bounds":"flush"},
    {"hconcat":[
     {"width":334,"height":331,"data":{"name":"ct"},"transform":[{"filter":"datum.p=='7-2'"}],"mark":{"type":"point","filled":true,"opacity":1,"stroke":"#1f77b4","strokeWidth":2.5,"clip":true},"encoding":{"x":{"field":"x","type":"quantitative","scale":{"domain":[0.5424,0.5739],"nice":false,"zero":false},"axis":{"values":[0.555,0.57],"labels":false,"title":null}},"y":{"field":"y","type":"quantitative","scale":{"domain":[-2.998,-2.743],"nice":false,"zero":false},"axis":{"values":[-2.9,-2.8],"labels":false,"title":null}},"color":{"field":"l","type":"ordinal","scale":{"domain":[1,2,3],"range":["#1f77b4","#8fb9da","#c6dbec"]},"legend":null},"size":{"field":"l","type":"quantitative","scale":{"type":"threshold","domain":[1.5,2.5],"range":[24000,72900,211600]},"legend":null},"shape":{"field":"f","type":"nominal","scale":{"domain":["N","n","P","p","s","q","o","w","t","v"]},"legend":null}}},
     {"width":334,"height":331,"data":{"name":"ct"},"transform":[{"filter":"datum.p=='7-3'"}],"mark":{"type":"point","filled":true,"opacity":1,"stroke":"#1f77b4","strokeWidth":2.5,"clip":true},"encoding":{"x":{"field":"x","type":"quantitative","scale":{"domain":[-0.323,-0.3068],"nice":false,"zero":false},"axis":{"values":[-0.318,-0.312],"labels":false,"title":null}},"y":{"field":"y","type":"quantitative","scale":{"domain":[-2.998,-2.743],"nice":false,"zero":false},"axis":{"values":[-2.9,-2.8],"labels":false,"title":null}},"color":{"field":"l","type":"ordinal","scale":{"domain":[1,2,3],"range":["#1f77b4","#8fb9da","#c6dbec"]},"legend":null},"size":{"field":"l","type":"quantitative","scale":{"type":"threshold","domain":[1.5,2.5],"range":[24000,72900,211600]},"legend":null},"shape":{"field":"f","type":"nominal","scale":{"domain":["N","n","P","p","s","q","o","w","t","v"]},"legend":null}}},
     {"width":334,"height":331,"data":{"name":"ct"},"transform":[{"filter":"datum.p=='7-4'"}],"mark":{"type":"point","filled":true,"opacity":1,"stroke":"#1f77b4","strokeWidth":2.5,"clip":true},"encoding":{"x":{"field":"x","type":"quantitative","scale":{"domain":[0.2466,0.2645],"nice":false,"zero":false},"axis":{"values":[0.252,0.258,0.264],"labels":false,"title":null}},"y":{"field":"y","type":"quantitative","scale":{"domain":[-2.998,-2.743],"nice":false,"zero":false},"axis":{"values":[-2.9,-2.8],"labels":false,"title":null}},"color":{"field":"l","type":"ordinal","scale":{"domain":[1,2,3],"range":["#1f77b4","#8fb9da","#c6dbec"]},"legend":null},"size":{"field":"l","type":"quantitative","scale":{"type":"threshold","domain":[1.5,2.5],"range":[24000,72900,211600]},"legend":null},"shape":{"field":"f","type":"nominal","scale":{"domain":["N","n","P","p","s","q","o","w","t","v"]},"legend":null}}},
     {"width":334,"height":331,"data":{"name":"ct"},"transform":[{"filter":"datum.p=='7-5'"}],"mark":{"type":"point","filled":true,"opacity":1,"stroke":"#1f77b4","strokeWidth":2.5,"clip":true},"encoding":{"x":{"field":"x","type":"quantitative","scale":{"domain":[-2.2644,-2.2524],"nice":false,"zero":false},"axis":{"values":[-2.264,-2.26,-2.256],"labels":false,"title":null}},"y":{"field":"y","type":"quantitative","scale":{"domain":[-2.998,-2.743],"nice":false,"zero":false},"axis":{"values":[-2.9,-2.8],"labels":false,"title":null}},"color":{"field":"l","type":"ordinal","scale":{"domain":[1,2,3],"range":["#1f77b4","#8fb9da","#c6dbec"]},"legend":null},"size":{"field":"l","type":"quantitative","scale":{"type":"threshold","domain":[1.5,2.5],"range":[24000,72900,211600]},"legend":null},"shape":{"field":"f","type":"nominal","scale":{"domain":["N","n","P","p","s","q","o","w","t","v"]},"legend":null}}},
     {"width":334,"height":331,"data":{"name":"ct"},"transform":[{"filter":"datum.p=='7-6'"}],"mark":{"type":"point","filled":true,"opacity":1,"stroke":"#1f77b4","strokeWidth":2.5,"clip":true},"encoding":{"x":{"field":"x","type":"quantitative","scale":{"domain":[6.209,6.539],"nice":false,"zero":false},"axis":{"values":[6.3,6.45],"labels":false,"title":null}},"y":{"field":"y","type":"quantitative","scale":{"domain":[-2.998,-2.743],"nice":false,"zero":false},"axis":{"values":[-2.9,-2.8],"labels":false,"title":null}},"color":{"field":"l","type":"ordinal","scale":{"domain":[1,2,3],"range":["#1f77b4","#8fb9da","#c6dbec"]},"legend":null},"size":{"field":"l","type":"quantitative","scale":{"type":"threshold","domain":[1.5,2.5],"range":[24000,72900,211600]},"legend":null},"shape":{"field":"f","type":"nominal","scale":{"domain":["N","n","P","p","s","q","o","w","t","v"]},"legend":null}}},
     {"width":334,"height":331,"data":{"name":"hist"},"transform":[{"filter":"datum.p==7"}],"mark":{"type":"line","interpolate":"step-after","color":"#1f77b4","strokeWidth":3,"clip":true},"encoding":{"x":{"field":"x","type":"quantitative","scale":{"domain":[-2.998,-2.743],"nice":false,"zero":false},"axis":{"values":[-2.9,-2.8],"labels":false,"title":null}},"y":{"field":"h","type":"quantitative","scale":{"domain":[0,1.5],"nice":false},"axis":{"values":[1],"labels":false,"title":null}}}}
    ],"spacing":16.8,"bounds":"flush"}
   ],"spacing":7.8},
   {"vconcat":[
    {"width":10,"height":48,"view":{"stroke":null},"data":{"values":[{}]},"mark":{"type":"text","text":""}},
    {"width":710,"height":447,"view":{"stroke":"#000000","strokeWidth":2.5,"fill":"#ffffff"},
     "layer":[
      {"data":{"name":"prof"},"mark":{"type":"area","color":"#ababab","opacity":1,"stroke":"#4d4d4d","strokeWidth":1.5,"strokeDash":[4,3]},"encoding":{"x":{"field":"r","type":"quantitative","title":"r (mas)","scale":{"domain":[-0.49,7.83],"nice":false,"zero":false},"axis":{"values":[0,2,4,6],"format":"d","labelAngle":0,"labelAlign":"center","labelBaseline":"top","labelFont":"DejaVu Serif","labelFontSize":28,"tickSize":9,"tickColor":"#000000","labelPadding":5,"titleFont":"DejaVu Serif","titleFontSize":30,"titlePadding":20}},"y":{"field":"lo","type":"quantitative","title":"α","scale":{"domain":[-1.92,1.095],"nice":false,"zero":false},"axis":{"values":[-1,0,1],"format":"d","labelAngle":-90,"labelAlign":"center","labelBaseline":"bottom","labelFont":"DejaVu Serif","labelFontSize":26,"tickSize":9,"tickColor":"#000000","labelPadding":5,"titleFont":"DejaVu Serif","titleFontSize":30,"titleX":-67,"titleY":223.5,"titleAngle":-90,"titleAlign":"center","titleBaseline":"middle"}},"y2":{"field":"hi"}}},
      {"data":{"name":"prof"},"mark":{"type":"line","color":"#000000","strokeWidth":2},"encoding":{"x":{"field":"r","type":"quantitative","title":"r (mas)"},"y":{"field":"a","type":"quantitative","title":"α"}}},
      {"data":{"values":[{"r":1.44}]},"mark":{"type":"rule","color":"#f4a261","strokeWidth":2.5,"strokeDash":[12,8]},"encoding":{"x":{"field":"r","type":"quantitative","title":"r (mas)"}}},
      {"data":{"values":[{"a":-1.085}]},"mark":{"type":"rule","color":"#2e8ae6","strokeWidth":3.5,"strokeDash":[3,6]},"encoding":{"y":{"field":"a","type":"quantitative","title":"α"}}},
      {"data":{"name":"stars"},"mark":{"type":"point","shape":"M0,-1L0.235,-0.324L0.951,-0.309L0.38,0.124L0.588,0.809L0,0.4L-0.588,0.809L-0.38,0.124L-0.951,-0.309L-0.235,-0.324Z","size":1000,"filled":true,"color":"#000000","opacity":1},"encoding":{"x":{"field":"r","type":"quantitative","title":"r (mas)"},"y":{"field":"a","type":"quantitative","title":"α"}}},
      {"data":{"values":[{"t":"α−profile"}]},"mark":{"type":"text","font":"DejaVu Serif","fontSize":30,"dx":250,"dy":-183,"align":"center","baseline":"middle","color":"#000000"},"encoding":{"text":{"field":"t"}}}
     ]}
   ],"spacing":18.2,"bounds":"flush"}
  ],"spacing":248},
  {"hconcat":[
   {"vconcat":[
    {"hconcat":[
     {"width":334,"height":331,"data":{"name":"ct"},"transform":[{"filter":"datum.p=='8-2'"}],"mark":{"type":"point","filled":true,"opacity":1,"stroke":"#1f77b4","strokeWidth":2.5,"clip":true},"encoding":{"x":{"field":"x","type":"quantitative","scale":{"domain":[0.5424,0.5739],"nice":false,"zero":false},"axis":{"values":[0.555,0.57],"labels":false,"title":null}},"y":{"field":"y","type":"quantitative","scale":{"domain":[8.33,9.14],"nice":false,"zero":false},"axis":{"values":[8.4,8.7,9.0],"labels":false,"title":null}},"color":{"field":"l","type":"ordinal","scale":{"domain":[1,2,3],"range":["#1f77b4","#8fb9da","#c6dbec"]},"legend":null},"size":{"field":"l","type":"quantitative","scale":{"type":"threshold","domain":[1.5,2.5],"range":[24000,72900,211600]},"legend":null},"shape":{"field":"f","type":"nominal","scale":{"domain":["N","n","P","p","s","q","o","w","t","v"]},"legend":null}}},
     {"width":334,"height":331,"data":{"name":"ct"},"transform":[{"filter":"datum.p=='8-3'"}],"mark":{"type":"point","filled":true,"opacity":1,"stroke":"#1f77b4","strokeWidth":2.5,"clip":true},"encoding":{"x":{"field":"x","type":"quantitative","scale":{"domain":[-0.323,-0.3068],"nice":false,"zero":false},"axis":{"values":[-0.318,-0.312],"labels":false,"title":null}},"y":{"field":"y","type":"quantitative","scale":{"domain":[8.33,9.14],"nice":false,"zero":false},"axis":{"values":[8.4,8.7,9.0],"labels":false,"title":null}},"color":{"field":"l","type":"ordinal","scale":{"domain":[1,2,3],"range":["#1f77b4","#8fb9da","#c6dbec"]},"legend":null},"size":{"field":"l","type":"quantitative","scale":{"type":"threshold","domain":[1.5,2.5],"range":[24000,72900,211600]},"legend":null},"shape":{"field":"f","type":"nominal","scale":{"domain":["N","n","P","p","s","q","o","w","t","v"]},"legend":null}}},
     {"width":334,"height":331,"data":{"name":"ct"},"transform":[{"filter":"datum.p=='8-4'"}],"mark":{"type":"point","filled":true,"opacity":1,"stroke":"#1f77b4","strokeWidth":2.5,"clip":true},"encoding":{"x":{"field":"x","type":"quantitative","scale":{"domain":[0.2466,0.2645],"nice":false,"zero":false},"axis":{"values":[0.252,0.258,0.264],"labels":false,"title":null}},"y":{"field":"y","type":"quantitative","scale":{"domain":[8.33,9.14],"nice":false,"zero":false},"axis":{"values":[8.4,8.7,9.0],"labels":false,"title":null}},"color":{"field":"l","type":"ordinal","scale":{"domain":[1,2,3],"range":["#1f77b4","#8fb9da","#c6dbec"]},"legend":null},"size":{"field":"l","type":"quantitative","scale":{"type":"threshold","domain":[1.5,2.5],"range":[24000,72900,211600]},"legend":null},"shape":{"field":"f","type":"nominal","scale":{"domain":["N","n","P","p","s","q","o","w","t","v"]},"legend":null}}},
     {"width":334,"height":331,"data":{"name":"ct"},"transform":[{"filter":"datum.p=='8-5'"}],"mark":{"type":"point","filled":true,"opacity":1,"stroke":"#1f77b4","strokeWidth":2.5,"clip":true},"encoding":{"x":{"field":"x","type":"quantitative","scale":{"domain":[-2.2644,-2.2524],"nice":false,"zero":false},"axis":{"values":[-2.264,-2.26,-2.256],"labels":false,"title":null}},"y":{"field":"y","type":"quantitative","scale":{"domain":[8.33,9.14],"nice":false,"zero":false},"axis":{"values":[8.4,8.7,9.0],"labels":false,"title":null}},"color":{"field":"l","type":"ordinal","scale":{"domain":[1,2,3],"range":["#1f77b4","#8fb9da","#c6dbec"]},"legend":null},"size":{"field":"l","type":"quantitative","scale":{"type":"threshold","domain":[1.5,2.5],"range":[24000,72900,211600]},"legend":null},"shape":{"field":"f","type":"nominal","scale":{"domain":["N","n","P","p","s","q","o","w","t","v"]},"legend":null}}},
     {"width":334,"height":331,"data":{"name":"ct"},"transform":[{"filter":"datum.p=='8-6'"}],"mark":{"type":"point","filled":true,"opacity":1,"stroke":"#1f77b4","strokeWidth":2.5,"clip":true},"encoding":{"x":{"field":"x","type":"quantitative","scale":{"domain":[6.209,6.539],"nice":false,"zero":false},"axis":{"values":[6.3,6.45],"labels":false,"title":null}},"y":{"field":"y","type":"quantitative","scale":{"domain":[8.33,9.14],"nice":false,"zero":false},"axis":{"values":[8.4,8.7,9.0],"labels":false,"title":null}},"color":{"field":"l","type":"ordinal","scale":{"domain":[1,2,3],"range":["#1f77b4","#8fb9da","#c6dbec"]},"legend":null},"size":{"field":"l","type":"quantitative","scale":{"type":"threshold","domain":[1.5,2.5],"range":[24000,72900,211600]},"legend":null},"shape":{"field":"f","type":"nominal","scale":{"domain":["N","n","P","p","s","q","o","w","t","v"]},"legend":null}}},
     {"width":334,"height":331,"data":{"name":"ct"},"transform":[{"filter":"datum.p=='8-7'"}],"mark":{"type":"point","filled":true,"opacity":1,"stroke":"#1f77b4","strokeWidth":2.5,"clip":true},"encoding":{"x":{"field":"x","type":"quantitative","scale":{"domain":[-2.998,-2.743],"nice":false,"zero":false},"axis":{"values":[-2.9,-2.8],"labels":false,"title":null}},"y":{"field":"y","type":"quantitative","scale":{"domain":[8.33,9.14],"nice":false,"zero":false},"axis":{"values":[8.4,8.7,9.0],"labels":false,"title":null}},"color":{"field":"l","type":"ordinal","scale":{"domain":[1,2,3],"range":["#1f77b4","#8fb9da","#c6dbec"]},"legend":null},"size":{"field":"l","type":"quantitative","scale":{"type":"threshold","domain":[1.5,2.5],"range":[24000,72900,211600]},"legend":null},"shape":{"field":"f","type":"nominal","scale":{"domain":["N","n","P","p","s","q","o","w","t","v"]},"legend":null}}},
     {"width":334,"height":331,"data":{"name":"hist"},"transform":[{"filter":"datum.p==8"}],"mark":{"type":"line","interpolate":"step-after","color":"#1f77b4","strokeWidth":3,"clip":true},"encoding":{"x":{"field":"x","type":"quantitative","scale":{"domain":[8.33,9.14],"nice":false,"zero":false},"axis":{"values":[8.4,8.7,9.0],"labels":false,"title":null}},"y":{"field":"h","type":"quantitative","scale":{"domain":[0,4.98],"nice":false},"axis":{"values":[1,2,3,4],"labels":false,"title":null}}}},
     {"width":334,"height":331,"view":{"stroke":null},"data":{"values":[{"line":1,"v":"m","r":"≈ 1"},{"line":2,"v":"n","r":"≈\u00a0\u00a02"}]},
      "layer":[
       {"transform":[{"filter":"datum.line==1"}],"mark":{"type":"text","font":"Lato","fontSize":62,"fontStyle":"italic","align":"left","baseline":"alphabetic","dx":-98,"dy":53,"color":"#000000"},"encoding":{"text":{"field":"v"}}},
       {"transform":[{"filter":"datum.line==1"}],"mark":{"type":"text","font":"Lato","fontSize":62,"align":"right","baseline":"alphabetic","dx":62,"dy":53,"color":"#000000"},"encoding":{"text":{"field":"r"}}},
       {"transform":[{"filter":"datum.line==2"}],"mark":{"type":"text","font":"Lato","fontSize":62,"fontStyle":"italic","align":"left","baseline":"alphabetic","dx":-98,"dy":127,"color":"#000000"},"encoding":{"text":{"field":"v"}}},
       {"transform":[{"filter":"datum.line==2"}],"mark":{"type":"text","font":"Lato","fontSize":62,"align":"right","baseline":"alphabetic","dx":62,"dy":127,"color":"#000000"},"encoding":{"text":{"field":"r"}}}
      ]}
    ],"spacing":16.8,"bounds":"flush"},
    {"hconcat":[
     {"width":334,"height":331,"data":{"name":"ct"},"transform":[{"filter":"datum.p=='9-2'"}],"mark":{"type":"point","filled":true,"opacity":1,"stroke":"#1f77b4","strokeWidth":2.5,"clip":true},"encoding":{"x":{"field":"x","type":"quantitative","scale":{"domain":[0.5424,0.5739],"nice":false,"zero":false},"axis":{"values":[0.555,0.57],"labels":false,"title":null}},"y":{"field":"y","type":"quantitative","scale":{"domain":[-0.02571,-0.01566],"nice":false,"zero":false},"axis":{"values":[-0.024,-0.02,-0.016],"labels":false,"title":null}},"color":{"field":"l","type":"ordinal","scale":{"domain":[1,2,3],"range":["#1f77b4","#8fb9da","#c6dbec"]},"legend":null},"size":{"field":"l","type":"quantitative","scale":{"type":"threshold","domain":[1.5,2.5],"range":[24000,72900,211600]},"legend":null},"shape":{"field":"f","type":"nominal","scale":{"domain":["N","n","P","p","s","q","o","w","t","v"]},"legend":null}}},
     {"width":334,"height":331,"data":{"name":"ct"},"transform":[{"filter":"datum.p=='9-3'"}],"mark":{"type":"point","filled":true,"opacity":1,"stroke":"#1f77b4","strokeWidth":2.5,"clip":true},"encoding":{"x":{"field":"x","type":"quantitative","scale":{"domain":[-0.323,-0.3068],"nice":false,"zero":false},"axis":{"values":[-0.318,-0.312],"labels":false,"title":null}},"y":{"field":"y","type":"quantitative","scale":{"domain":[-0.02571,-0.01566],"nice":false,"zero":false},"axis":{"values":[-0.024,-0.02,-0.016],"labels":false,"title":null}},"color":{"field":"l","type":"ordinal","scale":{"domain":[1,2,3],"range":["#1f77b4","#8fb9da","#c6dbec"]},"legend":null},"size":{"field":"l","type":"quantitative","scale":{"type":"threshold","domain":[1.5,2.5],"range":[24000,72900,211600]},"legend":null},"shape":{"field":"f","type":"nominal","scale":{"domain":["N","n","P","p","s","q","o","w","t","v"]},"legend":null}}},
     {"width":334,"height":331,"data":{"name":"ct"},"transform":[{"filter":"datum.p=='9-4'"}],"mark":{"type":"point","filled":true,"opacity":1,"stroke":"#1f77b4","strokeWidth":2.5,"clip":true},"encoding":{"x":{"field":"x","type":"quantitative","scale":{"domain":[0.2466,0.2645],"nice":false,"zero":false},"axis":{"values":[0.252,0.258,0.264],"labels":false,"title":null}},"y":{"field":"y","type":"quantitative","scale":{"domain":[-0.02571,-0.01566],"nice":false,"zero":false},"axis":{"values":[-0.024,-0.02,-0.016],"labels":false,"title":null}},"color":{"field":"l","type":"ordinal","scale":{"domain":[1,2,3],"range":["#1f77b4","#8fb9da","#c6dbec"]},"legend":null},"size":{"field":"l","type":"quantitative","scale":{"type":"threshold","domain":[1.5,2.5],"range":[24000,72900,211600]},"legend":null},"shape":{"field":"f","type":"nominal","scale":{"domain":["N","n","P","p","s","q","o","w","t","v"]},"legend":null}}},
     {"width":334,"height":331,"data":{"name":"ct"},"transform":[{"filter":"datum.p=='9-5'"}],"mark":{"type":"point","filled":true,"opacity":1,"stroke":"#1f77b4","strokeWidth":2.5,"clip":true},"encoding":{"x":{"field":"x","type":"quantitative","scale":{"domain":[-2.2644,-2.2524],"nice":false,"zero":false},"axis":{"values":[-2.264,-2.26,-2.256],"labels":false,"title":null}},"y":{"field":"y","type":"quantitative","scale":{"domain":[-0.02571,-0.01566],"nice":false,"zero":false},"axis":{"values":[-0.024,-0.02,-0.016],"labels":false,"title":null}},"color":{"field":"l","type":"ordinal","scale":{"domain":[1,2,3],"range":["#1f77b4","#8fb9da","#c6dbec"]},"legend":null},"size":{"field":"l","type":"quantitative","scale":{"type":"threshold","domain":[1.5,2.5],"range":[24000,72900,211600]},"legend":null},"shape":{"field":"f","type":"nominal","scale":{"domain":["N","n","P","p","s","q","o","w","t","v"]},"legend":null}}},
     {"width":334,"height":331,"data":{"name":"ct"},"transform":[{"filter":"datum.p=='9-6'"}],"mark":{"type":"point","filled":true,"opacity":1,"stroke":"#1f77b4","strokeWidth":2.5,"clip":true},"encoding":{"x":{"field":"x","type":"quantitative","scale":{"domain":[6.209,6.539],"nice":false,"zero":false},"axis":{"values":[6.3,6.45],"labels":false,"title":null}},"y":{"field":"y","type":"quantitative","scale":{"domain":[-0.02571,-0.01566],"nice":false,"zero":false},"axis":{"values":[-0.024,-0.02,-0.016],"labels":false,"title":null}},"color":{"field":"l","type":"ordinal","scale":{"domain":[1,2,3],"range":["#1f77b4","#8fb9da","#c6dbec"]},"legend":null},"size":{"field":"l","type":"quantitative","scale":{"type":"threshold","domain":[1.5,2.5],"range":[24000,72900,211600]},"legend":null},"shape":{"field":"f","type":"nominal","scale":{"domain":["N","n","P","p","s","q","o","w","t","v"]},"legend":null}}},
     {"width":334,"height":331,"data":{"name":"ct"},"transform":[{"filter":"datum.p=='9-7'"}],"mark":{"type":"point","filled":true,"opacity":1,"stroke":"#1f77b4","strokeWidth":2.5,"clip":true},"encoding":{"x":{"field":"x","type":"quantitative","scale":{"domain":[-2.998,-2.743],"nice":false,"zero":false},"axis":{"values":[-2.9,-2.8],"labels":false,"title":null}},"y":{"field":"y","type":"quantitative","scale":{"domain":[-0.02571,-0.01566],"nice":false,"zero":false},"axis":{"values":[-0.024,-0.02,-0.016],"labels":false,"title":null}},"color":{"field":"l","type":"ordinal","scale":{"domain":[1,2,3],"range":["#1f77b4","#8fb9da","#c6dbec"]},"legend":null},"size":{"field":"l","type":"quantitative","scale":{"type":"threshold","domain":[1.5,2.5],"range":[24000,72900,211600]},"legend":null},"shape":{"field":"f","type":"nominal","scale":{"domain":["N","n","P","p","s","q","o","w","t","v"]},"legend":null}}},
     {"width":334,"height":331,"data":{"name":"ct"},"transform":[{"filter":"datum.p=='9-8'"}],"mark":{"type":"point","filled":true,"opacity":1,"stroke":"#1f77b4","strokeWidth":2.5,"clip":true},"encoding":{"x":{"field":"x","type":"quantitative","scale":{"domain":[8.33,9.14],"nice":false,"zero":false},"axis":{"values":[8.4,8.7,9.0],"labels":false,"title":null}},"y":{"field":"y","type":"quantitative","scale":{"domain":[-0.02571,-0.01566],"nice":false,"zero":false},"axis":{"values":[-0.024,-0.02,-0.016],"labels":false,"title":null}},"color":{"field":"l","type":"ordinal","scale":{"domain":[1,2,3],"range":["#1f77b4","#8fb9da","#c6dbec"]},"legend":null},"size":{"field":"l","type":"quantitative","scale":{"type":"threshold","domain":[1.5,2.5],"range":[24000,72900,211600]},"legend":null},"shape":{"field":"f","type":"nominal","scale":{"domain":["N","n","P","p","s","q","o","w","t","v"]},"legend":null}}},
     {"width":334,"height":331,"data":{"name":"hist"},"transform":[{"filter":"datum.p==9"}],"mark":{"type":"line","interpolate":"step-after","color":"#1f77b4","strokeWidth":3,"clip":true},"encoding":{"x":{"field":"x","type":"quantitative","scale":{"domain":[-0.02571,-0.01566],"nice":false,"zero":false},"axis":{"values":[-0.024,-0.02,-0.016],"labels":false,"title":null}},"y":{"field":"h","type":"quantitative","scale":{"domain":[0,4.59],"nice":false},"axis":{"values":[1,2,3,4],"labels":false,"title":null}}}}
    ],"spacing":16.8,"bounds":"flush"}
   ],"spacing":7.8},
   {"vconcat":[
    {"width":10,"height":20,"view":{"stroke":null},"data":{"values":[{}]},"mark":{"type":"text","text":""}},
    {"width":98,"height":438,"view":{"stroke":null},"data":{"values":[{"item":"arrow"}]},"mark":{"type":"point","shape":"M-0.112,-1L0.112,-1L0.112,0.5L0.224,0.5L0,1L-0.224,0.5L-0.112,0.5Z","size":191844,"filled":true,"fill":"#cfe3f3","stroke":"#93b6dc","strokeWidth":2,"opacity":1}}
   ],"spacing":18.8,"bounds":"flush"}
  ],"spacing":100},
  {"hconcat":[
   {"width":334,"height":331,"data":{"name":"ct"},"transform":[{"filter":"datum.p=='10-2'"}],"mark":{"type":"point","filled":true,"opacity":1,"stroke":"#1f77b4","strokeWidth":2.5,"clip":true},"encoding":{"x":{"field":"x","type":"quantitative","scale":{"domain":[0.5424,0.5739],"nice":false,"zero":false},"axis":{"values":[0.555,0.57],"format":".3f","title":"dyₓ","titleFontStyle":"italic","titleY":128,"titleBaseline":"top"}},"y":{"field":"y","type":"quantitative","scale":{"domain":[0.0144,0.1026],"nice":false,"zero":false},"axis":{"values":[0.03,0.06,0.09],"labels":false,"title":null}},"color":{"field":"l","type":"ordinal","scale":{"domain":[1,2,3],"range":["#1f77b4","#8fb9da","#c6dbec"]},"legend":null},"size":{"field":"l","type":"quantitative","scale":{"type":"threshold","domain":[1.5,2.5],"range":[24000,72900,211600]},"legend":null},"shape":{"field":"f","type":"nominal","scale":{"domain":["N","n","P","p","s","q","o","w","t","v"]},"legend":null}}},
   {"width":334,"height":331,"data":{"name":"ct"},"transform":[{"filter":"datum.p=='10-3'"}],"mark":{"type":"point","filled":true,"opacity":1,"stroke":"#1f77b4","strokeWidth":2.5,"clip":true},"encoding":{"x":{"field":"x","type":"quantitative","scale":{"domain":[-0.323,-0.3068],"nice":false,"zero":false},"axis":{"values":[-0.318,-0.312],"format":".3f","title":"dxᵤ","titleFontStyle":"italic","titleY":128,"titleBaseline":"top"}},"y":{"field":"y","type":"quantitative","scale":{"domain":[0.0144,0.1026],"nice":false,"zero":false},"axis":{"values":[0.03,0.06,0.09],"labels":false,"title":null}},"color":{"field":"l","type":"ordinal","scale":{"domain":[1,2,3],"range":["#1f77b4","#8fb9da","#c6dbec"]},"legend":null},"size":{"field":"l","type":"quantitative","scale":{"type":"threshold","domain":[1.5,2.5],"range":[24000,72900,211600]},"legend":null},"shape":{"field":"f","type":"nominal","scale":{"domain":["N","n","P","p","s","q","o","w","t","v"]},"legend":null}}},
   {"width":334,"height":331,"data":{"name":"ct"},"transform":[{"filter":"datum.p=='10-4'"}],"mark":{"type":"point","filled":true,"opacity":1,"stroke":"#1f77b4","strokeWidth":2.5,"clip":true},"encoding":{"x":{"field":"x","type":"quantitative","scale":{"domain":[0.2466,0.2645],"nice":false,"zero":false},"axis":{"values":[0.252,0.258,0.264],"format":".3f","title":"dyᵤ","titleFontStyle":"italic","titleY":128,"titleBaseline":"top"}},"y":{"field":"y","type":"quantitative","scale":{"domain":[0.0144,0.1026],"nice":false,"zero":false},"axis":{"values":[0.03,0.06,0.09],"labels":false,"title":null}},"color":{"field":"l","type":"ordinal","scale":{"domain":[1,2,3],"range":["#1f77b4","#8fb9da","#c6dbec"]},"legend":null},"size":{"field":"l","type":"quantitative","scale":{"type":"threshold","domain":[1.5,2.5],"range":[24000,72900,211600]},"legend":null},"shape":{"field":"f","type":"nominal","scale":{"domain":["N","n","P","p","s","q","o","w","t","v"]},"legend":null}}},
   {"width":334,"height":331,"data":{"name":"ct"},"transform":[{"filter":"datum.p=='10-5'"}],"mark":{"type":"point","filled":true,"opacity":1,"stroke":"#1f77b4","strokeWidth":2.5,"clip":true},"encoding":{"x":{"field":"x","type":"quantitative","scale":{"domain":[-2.2644,-2.2524],"nice":false,"zero":false},"axis":{"values":[-2.264,-2.26,-2.256],"format":".3f","title":"θᵣₒₜ","titleFontStyle":"italic","titleY":128,"titleBaseline":"top"}},"y":{"field":"y","type":"quantitative","scale":{"domain":[0.0144,0.1026],"nice":false,"zero":false},"axis":{"values":[0.03,0.06,0.09],"labels":false,"title":null}},"color":{"field":"l","type":"ordinal","scale":{"domain":[1,2,3],"range":["#1f77b4","#8fb9da","#c6dbec"]},"legend":null},"size":{"field":"l","type":"quantitative","scale":{"type":"threshold","domain":[1.5,2.5],"range":[24000,72900,211600]},"legend":null},"shape":{"field":"f","type":"nominal","scale":{"domain":["N","n","P","p","s","q","o","w","t","v"]},"legend":null}}},
   {"width":334,"height":331,"data":{"name":"ct"},"transform":[{"filter":"datum.p=='10-6'"}],"mark":{"type":"point","filled":true,"opacity":1,"stroke":"#1f77b4","strokeWidth":2.5,"clip":true},"encoding":{"x":{"field":"x","type":"quantitative","scale":{"domain":[6.209,6.539],"nice":false,"zero":false},"axis":{"values":[6.3,6.45],"format":".2f","title":"ϕₐₚₚ","titleFontStyle":"italic","titleY":128,"titleBaseline":"top"}},"y":{"field":"y","type":"quantitative","scale":{"domain":[0.0144,0.1026],"nice":false,"zero":false},"axis":{"values":[0.03,0.06,0.09],"labels":false,"title":null}},"color":{"field":"l","type":"ordinal","scale":{"domain":[1,2,3],"range":["#1f77b4","#8fb9da","#c6dbec"]},"legend":null},"size":{"field":"l","type":"quantitative","scale":{"type":"threshold","domain":[1.5,2.5],"range":[24000,72900,211600]},"legend":null},"shape":{"field":"f","type":"nominal","scale":{"domain":["N","n","P","p","s","q","o","w","t","v"]},"legend":null}}},
   {"width":334,"height":331,"data":{"name":"ct"},"transform":[{"filter":"datum.p=='10-7'"}],"mark":{"type":"point","filled":true,"opacity":1,"stroke":"#1f77b4","strokeWidth":2.5,"clip":true},"encoding":{"x":{"field":"x","type":"quantitative","scale":{"domain":[-2.998,-2.743],"nice":false,"zero":false},"axis":{"values":[-2.9,-2.8],"format":".1f","title":"logA₁","titleY":128,"titleBaseline":"top"}},"y":{"field":"y","type":"quantitative","scale":{"domain":[0.0144,0.1026],"nice":false,"zero":false},"axis":{"values":[0.03,0.06,0.09],"labels":false,"title":null}},"color":{"field":"l","type":"ordinal","scale":{"domain":[1,2,3],"range":["#1f77b4","#8fb9da","#c6dbec"]},"legend":null},"size":{"field":"l","type":"quantitative","scale":{"type":"threshold","domain":[1.5,2.5],"range":[24000,72900,211600]},"legend":null},"shape":{"field":"f","type":"nominal","scale":{"domain":["N","n","P","p","s","q","o","w","t","v"]},"legend":null}}},
   {"width":334,"height":331,"data":{"name":"ct"},"transform":[{"filter":"datum.p=='10-8'"}],"mark":{"type":"point","filled":true,"opacity":1,"stroke":"#1f77b4","strokeWidth":2.5,"clip":true},"encoding":{"x":{"field":"x","type":"quantitative","scale":{"domain":[8.33,9.14],"nice":false,"zero":false},"axis":{"values":[8.4,8.7,9.0],"format":".1f","title":"logA₂","titleY":128,"titleBaseline":"top"}},"y":{"field":"y","type":"quantitative","scale":{"domain":[0.0144,0.1026],"nice":false,"zero":false},"axis":{"values":[0.03,0.06,0.09],"labels":false,"title":null}},"color":{"field":"l","type":"ordinal","scale":{"domain":[1,2,3],"range":["#1f77b4","#8fb9da","#c6dbec"]},"legend":null},"size":{"field":"l","type":"quantitative","scale":{"type":"threshold","domain":[1.5,2.5],"range":[24000,72900,211600]},"legend":null},"shape":{"field":"f","type":"nominal","scale":{"domain":["N","n","P","p","s","q","o","w","t","v"]},"legend":null}}},
   {"width":334,"height":331,"data":{"name":"ct"},"transform":[{"filter":"datum.p=='10-9'"}],"mark":{"type":"point","filled":true,"opacity":1,"stroke":"#1f77b4","strokeWidth":2.5,"clip":true},"encoding":{"x":{"field":"x","type":"quantitative","scale":{"domain":[-0.02571,-0.01566],"nice":false,"zero":false},"axis":{"values":[-0.024,-0.02,-0.016],"format":".3f","title":"logm","titleY":128,"titleBaseline":"top"}},"y":{"field":"y","type":"quantitative","scale":{"domain":[0.0144,0.1026],"nice":false,"zero":false},"axis":{"values":[0.03,0.06,0.09],"labels":false,"title":null}},"color":{"field":"l","type":"ordinal","scale":{"domain":[1,2,3],"range":["#1f77b4","#8fb9da","#c6dbec"]},"legend":null},"size":{"field":"l","type":"quantitative","scale":{"type":"threshold","domain":[1.5,2.5],"range":[24000,72900,211600]},"legend":null},"shape":{"field":"f","type":"nominal","scale":{"domain":["N","n","P","p","s","q","o","w","t","v"]},"legend":null}}},
   {"width":334,"height":331,"data":{"name":"hist"},"transform":[{"filter":"datum.p==10"}],"mark":{"type":"line","interpolate":"step-after","color":"#1f77b4","strokeWidth":3,"clip":true},"encoding":{"x":{"field":"x","type":"quantitative","scale":{"domain":[0.0144,0.1026],"nice":false,"zero":false},"axis":{"values":[0.03,0.06,0.09],"format":".2f","title":"logα","titleY":128,"titleBaseline":"top"}},"y":{"field":"h","type":"quantitative","scale":{"domain":[0,2.51],"nice":false},"axis":{"values":[1,2],"labels":false,"title":null}}}}
  ],"spacing":16.8,"bounds":"flush"}
 ],"spacing":7.8}
],"spacing":0}
]
}
